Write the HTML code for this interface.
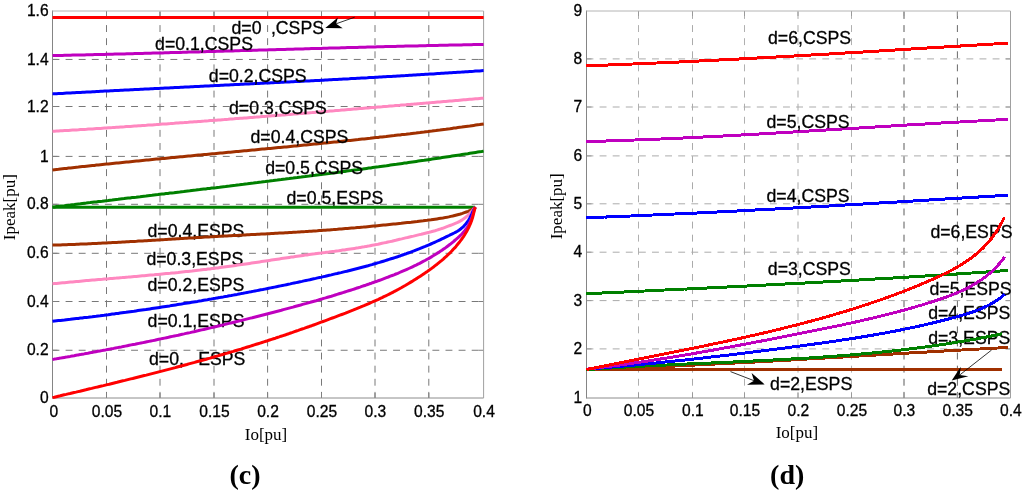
<!DOCTYPE html>
<html><head><meta charset="utf-8"><title>Ipeak vs Io</title>
<style>html,body{margin:0;padding:0;background:#fff;width:1024px;height:499px;overflow:hidden}svg{display:block}</style>
</head><body>
<svg width="1024" height="499" viewBox="0 0 1024 499" style="will-change:transform">
<rect width="1024" height="499" fill="#fff"/>
<line x1="106.5" y1="11.0" x2="106.5" y2="398.0" stroke="#787878" stroke-width="1" stroke-dasharray="6.9 6.2" stroke-dashoffset="-1"/>
<line x1="160.0" y1="11.0" x2="160.0" y2="398.0" stroke="#787878" stroke-width="1" stroke-dasharray="6.9 6.2" stroke-dashoffset="-1"/>
<line x1="214.0" y1="11.0" x2="214.0" y2="398.0" stroke="#787878" stroke-width="1" stroke-dasharray="6.9 6.2" stroke-dashoffset="-1"/>
<line x1="267.6" y1="11.0" x2="267.6" y2="398.0" stroke="#787878" stroke-width="1" stroke-dasharray="6.9 6.2" stroke-dashoffset="-1"/>
<line x1="321.5" y1="11.0" x2="321.5" y2="398.0" stroke="#787878" stroke-width="1" stroke-dasharray="6.9 6.2" stroke-dashoffset="-1"/>
<line x1="375.0" y1="11.0" x2="375.0" y2="398.0" stroke="#787878" stroke-width="1" stroke-dasharray="6.9 6.2" stroke-dashoffset="-1"/>
<line x1="428.8" y1="11.0" x2="428.8" y2="398.0" stroke="#787878" stroke-width="1" stroke-dasharray="6.9 6.2" stroke-dashoffset="-1"/>
<line x1="52.5" y1="59.45" x2="483.6" y2="59.45" stroke="#787878" stroke-width="1" stroke-dasharray="6.9 6.2"/>
<line x1="52.5" y1="106.5" x2="483.6" y2="106.5" stroke="#787878" stroke-width="1" stroke-dasharray="6.9 6.2"/>
<line x1="52.5" y1="156.4" x2="483.6" y2="156.4" stroke="#787878" stroke-width="1" stroke-dasharray="6.9 6.2"/>
<line x1="52.5" y1="204.3" x2="483.6" y2="204.3" stroke="#787878" stroke-width="1" stroke-dasharray="6.9 6.2"/>
<line x1="52.5" y1="253.3" x2="483.6" y2="253.3" stroke="#787878" stroke-width="1" stroke-dasharray="6.9 6.2"/>
<line x1="52.5" y1="301.5" x2="483.6" y2="301.5" stroke="#787878" stroke-width="1" stroke-dasharray="6.9 6.2"/>
<line x1="52.5" y1="350.25" x2="483.6" y2="350.25" stroke="#787878" stroke-width="1" stroke-dasharray="6.9 6.2"/>
<line x1="106.5" y1="398.0" x2="106.5" y2="393.0" stroke="#808080" stroke-width="1"/>
<line x1="106.5" y1="11.0" x2="106.5" y2="16.0" stroke="#808080" stroke-width="1"/>
<line x1="160.0" y1="398.0" x2="160.0" y2="393.0" stroke="#808080" stroke-width="1"/>
<line x1="160.0" y1="11.0" x2="160.0" y2="16.0" stroke="#808080" stroke-width="1"/>
<line x1="214.0" y1="398.0" x2="214.0" y2="393.0" stroke="#808080" stroke-width="1"/>
<line x1="214.0" y1="11.0" x2="214.0" y2="16.0" stroke="#808080" stroke-width="1"/>
<line x1="267.6" y1="398.0" x2="267.6" y2="393.0" stroke="#808080" stroke-width="1"/>
<line x1="267.6" y1="11.0" x2="267.6" y2="16.0" stroke="#808080" stroke-width="1"/>
<line x1="321.5" y1="398.0" x2="321.5" y2="393.0" stroke="#808080" stroke-width="1"/>
<line x1="321.5" y1="11.0" x2="321.5" y2="16.0" stroke="#808080" stroke-width="1"/>
<line x1="375.0" y1="398.0" x2="375.0" y2="393.0" stroke="#808080" stroke-width="1"/>
<line x1="375.0" y1="11.0" x2="375.0" y2="16.0" stroke="#808080" stroke-width="1"/>
<line x1="428.8" y1="398.0" x2="428.8" y2="393.0" stroke="#808080" stroke-width="1"/>
<line x1="428.8" y1="11.0" x2="428.8" y2="16.0" stroke="#808080" stroke-width="1"/>
<line x1="52.5" y1="59.45" x2="57.5" y2="59.45" stroke="#808080" stroke-width="1"/>
<line x1="483.6" y1="59.45" x2="478.6" y2="59.45" stroke="#808080" stroke-width="1"/>
<line x1="52.5" y1="106.5" x2="57.5" y2="106.5" stroke="#808080" stroke-width="1"/>
<line x1="483.6" y1="106.5" x2="478.6" y2="106.5" stroke="#808080" stroke-width="1"/>
<line x1="52.5" y1="156.4" x2="57.5" y2="156.4" stroke="#808080" stroke-width="1"/>
<line x1="483.6" y1="156.4" x2="478.6" y2="156.4" stroke="#808080" stroke-width="1"/>
<line x1="52.5" y1="204.3" x2="57.5" y2="204.3" stroke="#808080" stroke-width="1"/>
<line x1="483.6" y1="204.3" x2="478.6" y2="204.3" stroke="#808080" stroke-width="1"/>
<line x1="52.5" y1="253.3" x2="57.5" y2="253.3" stroke="#808080" stroke-width="1"/>
<line x1="483.6" y1="253.3" x2="478.6" y2="253.3" stroke="#808080" stroke-width="1"/>
<line x1="52.5" y1="301.5" x2="57.5" y2="301.5" stroke="#808080" stroke-width="1"/>
<line x1="483.6" y1="301.5" x2="478.6" y2="301.5" stroke="#808080" stroke-width="1"/>
<line x1="52.5" y1="350.25" x2="57.5" y2="350.25" stroke="#808080" stroke-width="1"/>
<line x1="483.6" y1="350.25" x2="478.6" y2="350.25" stroke="#808080" stroke-width="1"/>
<line x1="52.5" y1="10.5" x2="52.5" y2="398.5" stroke="#858585" stroke-width="1"/>
<line x1="52.5" y1="398.0" x2="483.6" y2="398.0" stroke="#8c8c8c" stroke-width="1"/>
<line x1="483.6" y1="11.0" x2="483.6" y2="398.0" stroke="#a0a0a0" stroke-width="1"/>
<line x1="52.5" y1="11.0" x2="483.6" y2="11.0" stroke="#b4b4b4" stroke-width="1"/>
<line x1="638.5" y1="11.0" x2="638.5" y2="398.0" stroke="#b0b0b0" stroke-width="1" stroke-dasharray="6.9 6.2" stroke-dashoffset="-1"/>
<line x1="692.5" y1="11.0" x2="692.5" y2="398.0" stroke="#ababab" stroke-width="1" stroke-dasharray="6.9 6.2" stroke-dashoffset="-1"/>
<line x1="744.5" y1="11.0" x2="744.5" y2="398.0" stroke="#b0b0b0" stroke-width="1" stroke-dasharray="6.9 6.2" stroke-dashoffset="-1"/>
<line x1="798.0" y1="11.0" x2="798.0" y2="398.0" stroke="#ababab" stroke-width="1" stroke-dasharray="6.9 6.2" stroke-dashoffset="-1"/>
<line x1="851.5" y1="11.0" x2="851.5" y2="398.0" stroke="#b0b0b0" stroke-width="1" stroke-dasharray="6.9 6.2" stroke-dashoffset="-1"/>
<line x1="904.0" y1="11.0" x2="904.0" y2="398.0" stroke="#5a5a5a" stroke-width="1" stroke-dasharray="6.9 6.2" stroke-dashoffset="-1"/>
<line x1="957.4" y1="11.0" x2="957.4" y2="398.0" stroke="#6a6a6a" stroke-width="1" stroke-dasharray="6.9 6.2" stroke-dashoffset="-1"/>
<line x1="586.5" y1="58.9" x2="1010.5" y2="58.9" stroke="#ababab" stroke-width="1" stroke-dasharray="6.9 6.2"/>
<line x1="586.5" y1="107.0" x2="1010.5" y2="107.0" stroke="#ababab" stroke-width="1" stroke-dasharray="6.9 6.2"/>
<line x1="586.5" y1="155.9" x2="1010.5" y2="155.9" stroke="#ababab" stroke-width="1" stroke-dasharray="6.9 6.2"/>
<line x1="586.5" y1="203.8" x2="1010.5" y2="203.8" stroke="#ababab" stroke-width="1" stroke-dasharray="6.9 6.2"/>
<line x1="586.5" y1="252.2" x2="1010.5" y2="252.2" stroke="#ababab" stroke-width="1" stroke-dasharray="6.9 6.2"/>
<line x1="586.5" y1="300.6" x2="1010.5" y2="300.6" stroke="#ababab" stroke-width="1" stroke-dasharray="6.9 6.2"/>
<line x1="586.5" y1="348.9" x2="1010.5" y2="348.9" stroke="#ababab" stroke-width="1" stroke-dasharray="6.9 6.2"/>
<line x1="638.5" y1="398.0" x2="638.5" y2="393.0" stroke="#9a9a9a" stroke-width="1"/>
<line x1="638.5" y1="11.0" x2="638.5" y2="16.0" stroke="#9a9a9a" stroke-width="1"/>
<line x1="692.5" y1="398.0" x2="692.5" y2="393.0" stroke="#9a9a9a" stroke-width="1"/>
<line x1="692.5" y1="11.0" x2="692.5" y2="16.0" stroke="#9a9a9a" stroke-width="1"/>
<line x1="744.5" y1="398.0" x2="744.5" y2="393.0" stroke="#9a9a9a" stroke-width="1"/>
<line x1="744.5" y1="11.0" x2="744.5" y2="16.0" stroke="#9a9a9a" stroke-width="1"/>
<line x1="798.0" y1="398.0" x2="798.0" y2="393.0" stroke="#9a9a9a" stroke-width="1"/>
<line x1="798.0" y1="11.0" x2="798.0" y2="16.0" stroke="#9a9a9a" stroke-width="1"/>
<line x1="851.5" y1="398.0" x2="851.5" y2="393.0" stroke="#9a9a9a" stroke-width="1"/>
<line x1="851.5" y1="11.0" x2="851.5" y2="16.0" stroke="#9a9a9a" stroke-width="1"/>
<line x1="904.0" y1="398.0" x2="904.0" y2="393.0" stroke="#9a9a9a" stroke-width="1"/>
<line x1="904.0" y1="11.0" x2="904.0" y2="16.0" stroke="#9a9a9a" stroke-width="1"/>
<line x1="957.4" y1="398.0" x2="957.4" y2="393.0" stroke="#9a9a9a" stroke-width="1"/>
<line x1="957.4" y1="11.0" x2="957.4" y2="16.0" stroke="#9a9a9a" stroke-width="1"/>
<line x1="586.5" y1="58.9" x2="591.5" y2="58.9" stroke="#9a9a9a" stroke-width="1"/>
<line x1="1010.5" y1="58.9" x2="1005.5" y2="58.9" stroke="#9a9a9a" stroke-width="1"/>
<line x1="586.5" y1="107.0" x2="591.5" y2="107.0" stroke="#9a9a9a" stroke-width="1"/>
<line x1="1010.5" y1="107.0" x2="1005.5" y2="107.0" stroke="#9a9a9a" stroke-width="1"/>
<line x1="586.5" y1="155.9" x2="591.5" y2="155.9" stroke="#9a9a9a" stroke-width="1"/>
<line x1="1010.5" y1="155.9" x2="1005.5" y2="155.9" stroke="#9a9a9a" stroke-width="1"/>
<line x1="586.5" y1="203.8" x2="591.5" y2="203.8" stroke="#9a9a9a" stroke-width="1"/>
<line x1="1010.5" y1="203.8" x2="1005.5" y2="203.8" stroke="#9a9a9a" stroke-width="1"/>
<line x1="586.5" y1="252.2" x2="591.5" y2="252.2" stroke="#9a9a9a" stroke-width="1"/>
<line x1="1010.5" y1="252.2" x2="1005.5" y2="252.2" stroke="#9a9a9a" stroke-width="1"/>
<line x1="586.5" y1="300.6" x2="591.5" y2="300.6" stroke="#9a9a9a" stroke-width="1"/>
<line x1="1010.5" y1="300.6" x2="1005.5" y2="300.6" stroke="#9a9a9a" stroke-width="1"/>
<line x1="586.5" y1="348.9" x2="591.5" y2="348.9" stroke="#9a9a9a" stroke-width="1"/>
<line x1="1010.5" y1="348.9" x2="1005.5" y2="348.9" stroke="#9a9a9a" stroke-width="1"/>
<line x1="586.5" y1="10.5" x2="586.5" y2="398.5" stroke="#858585" stroke-width="1"/>
<line x1="586.5" y1="398.0" x2="1010.5" y2="398.0" stroke="#8c8c8c" stroke-width="1"/>
<line x1="1010.5" y1="11.0" x2="1010.5" y2="398.0" stroke="#a0a0a0" stroke-width="1"/>
<line x1="586.5" y1="11.0" x2="1010.5" y2="11.0" stroke="#b4b4b4" stroke-width="1"/>
<polyline points="52.5,17.4 483.6,17.4" fill="none" stroke="#ff0000" stroke-width="3.0" stroke-linejoin="round" stroke-linecap="butt"/>
<polyline points="52.5,55.6 54.5,55.5 56.5,55.5 58.5,55.4 60.5,55.4 62.5,55.4 64.5,55.3 66.5,55.3 68.5,55.2 70.5,55.2 72.6,55.1 74.6,55.1 76.6,55.0 78.6,55.0 80.6,54.9 82.6,54.9 84.6,54.9 86.6,54.8 88.6,54.8 90.6,54.7 92.6,54.7 94.6,54.6 96.6,54.6 98.6,54.5 100.6,54.5 102.6,54.4 104.6,54.4 106.6,54.3 108.6,54.3 110.7,54.2 112.7,54.2 114.7,54.1 116.7,54.1 118.7,54.0 120.7,54.0 122.7,53.9 124.7,53.9 126.7,53.8 128.7,53.8 130.7,53.7 132.7,53.7 134.7,53.6 136.7,53.6 138.7,53.5 140.7,53.4 142.7,53.4 144.7,53.3 146.7,53.3 148.7,53.2 150.8,53.2 152.8,53.1 154.8,53.1 156.8,53.0 158.8,53.0 160.8,52.9 162.8,52.9 164.8,52.8 166.8,52.7 168.8,52.7 170.8,52.6 172.8,52.6 174.8,52.5 176.8,52.5 178.8,52.4 180.8,52.4 182.8,52.3 184.8,52.2 186.8,52.2 188.9,52.1 190.9,52.1 192.9,52.0 194.9,52.0 196.9,51.9 198.9,51.9 200.9,51.8 202.9,51.7 204.9,51.7 206.9,51.6 208.9,51.6 210.9,51.5 212.9,51.5 214.9,51.4 216.9,51.3 218.9,51.3 220.9,51.2 222.9,51.2 224.9,51.1 226.9,51.1 229.0,51.0 231.0,50.9 233.0,50.9 235.0,50.8 237.0,50.8 239.0,50.7 241.0,50.6 243.0,50.6 245.0,50.5 247.0,50.5 249.0,50.4 251.0,50.4 253.0,50.3 255.0,50.2 257.0,50.2 259.0,50.1 261.0,50.1 263.0,50.0 265.0,50.0 267.0,49.9 269.0,49.8 271.1,49.8 273.1,49.7 275.1,49.7 277.1,49.6 279.1,49.6 281.1,49.5 283.1,49.4 285.1,49.4 287.1,49.3 289.1,49.3 291.1,49.2 293.1,49.2 295.1,49.1 297.1,49.0 299.1,49.0 301.1,48.9 303.1,48.9 305.1,48.8 307.1,48.8 309.1,48.7 311.2,48.6 313.2,48.6 315.2,48.5 317.2,48.5 319.2,48.4 321.2,48.4 323.2,48.3 325.2,48.2 327.2,48.2 329.2,48.1 331.2,48.1 333.2,48.0 335.2,48.0 337.2,47.9 339.2,47.9 341.2,47.8 343.2,47.7 345.2,47.7 347.2,47.6 349.2,47.6 351.3,47.5 353.3,47.5 355.3,47.4 357.3,47.4 359.3,47.3 361.3,47.3 363.3,47.2 365.3,47.2 367.3,47.1 369.3,47.1 371.3,47.0 373.3,46.9 375.3,46.9 377.3,46.8 379.3,46.8 381.3,46.7 383.3,46.7 385.3,46.6 387.3,46.6 389.4,46.5 391.4,46.5 393.4,46.4 395.4,46.4 397.4,46.3 399.4,46.3 401.4,46.2 403.4,46.2 405.4,46.1 407.4,46.1 409.4,46.0 411.4,46.0 413.4,45.9 415.4,45.9 417.4,45.9 419.4,45.8 421.4,45.8 423.4,45.7 425.4,45.7 427.4,45.6 429.5,45.6 431.5,45.5 433.5,45.5 435.5,45.4 437.5,45.4 439.5,45.3 441.5,45.3 443.5,45.3 445.5,45.2 447.5,45.2 449.5,45.1 451.5,45.1 453.5,45.0 455.5,45.0 457.5,45.0 459.5,44.9 461.5,44.9 463.5,44.8 465.5,44.8 467.6,44.8 469.6,44.7 471.6,44.7 473.6,44.6 475.6,44.6 477.6,44.6 479.6,44.5 481.6,44.5 483.6,44.4" fill="none" stroke="#bf00bf" stroke-width="3.0" stroke-linejoin="round"/>
<polyline points="52.5,93.7 54.5,93.8 56.5,93.7 58.5,93.6 60.5,93.5 62.5,93.4 64.5,93.2 66.5,93.1 68.6,93.0 70.6,92.9 72.6,92.8 74.6,92.7 76.6,92.6 78.6,92.5 80.6,92.4 82.6,92.3 84.6,92.2 86.6,92.1 88.6,92.0 90.6,91.9 92.6,91.8 94.6,91.7 96.6,91.6 98.6,91.5 100.6,91.3 102.6,91.2 104.6,91.1 106.7,91.0 108.7,90.9 110.7,90.8 112.7,90.7 114.7,90.6 116.7,90.5 118.7,90.4 120.7,90.3 122.7,90.2 124.7,90.1 126.7,90.0 128.7,89.9 130.7,89.8 132.7,89.7 134.7,89.6 136.7,89.5 138.7,89.4 140.7,89.3 142.8,89.2 144.8,89.1 146.8,89.0 148.8,88.9 150.8,88.8 152.8,88.7 154.8,88.6 156.8,88.5 158.8,88.4 160.8,88.3 162.8,88.2 164.8,88.1 166.8,88.0 168.8,87.9 170.8,87.8 172.8,87.7 174.8,87.6 176.8,87.5 178.9,87.4 180.9,87.3 182.9,87.2 184.9,87.1 186.9,87.0 188.9,86.9 190.9,86.8 192.9,86.7 194.9,86.6 196.9,86.5 198.9,86.4 200.9,86.3 202.9,86.2 204.9,86.1 206.9,86.0 208.9,85.9 210.9,85.8 212.9,85.7 215.0,85.6 217.0,85.5 219.0,85.4 221.0,85.3 223.0,85.2 225.0,85.1 227.0,85.0 229.0,84.9 231.0,84.8 233.0,84.7 235.0,84.6 237.0,84.5 239.0,84.4 241.0,84.3 243.0,84.2 245.0,84.1 247.0,84.0 249.0,83.9 251.1,83.8 253.1,83.7 255.1,83.6 257.1,83.5 259.1,83.4 261.1,83.3 263.1,83.2 265.1,83.1 267.1,83.0 269.1,82.9 271.1,82.8 273.1,82.7 275.1,82.6 277.1,82.5 279.1,82.4 281.1,82.3 283.1,82.2 285.1,82.1 287.1,82.0 289.2,81.9 291.2,81.8 293.2,81.7 295.2,81.6 297.2,81.5 299.2,81.4 301.2,81.3 303.2,81.2 305.2,81.1 307.2,81.0 309.2,80.9 311.2,80.8 313.2,80.7 315.2,80.6 317.2,80.5 319.2,80.4 321.2,80.3 323.2,80.2 325.2,80.0 327.3,79.9 329.3,79.8 331.3,79.7 333.3,79.6 335.3,79.5 337.3,79.4 339.3,79.3 341.3,79.2 343.3,79.1 345.3,79.0 347.3,78.9 349.3,78.8 351.3,78.6 353.3,78.5 355.3,78.4 357.3,78.3 359.3,78.2 361.3,78.1 363.3,78.0 365.3,77.9 367.4,77.8 369.4,77.6 371.4,77.5 373.4,77.4 375.4,77.3 377.4,77.2 379.4,77.1 381.4,77.0 383.4,76.8 385.4,76.7 387.4,76.6 389.4,76.5 391.4,76.4 393.4,76.3 395.4,76.2 397.4,76.0 399.4,75.9 401.4,75.8 403.4,75.7 405.4,75.6 407.4,75.4 409.5,75.3 411.5,75.2 413.5,75.1 415.5,75.0 417.5,74.8 419.5,74.7 421.5,74.6 423.5,74.5 425.5,74.3 427.5,74.2 429.5,74.1 431.5,74.0 433.5,73.9 435.5,73.7 437.5,73.6 439.5,73.5 441.5,73.3 443.5,73.2 445.5,73.1 447.5,73.0 449.5,72.8 451.5,72.7 453.5,72.6 455.5,72.5 457.6,72.3 459.6,72.2 461.6,72.1 463.6,71.9 465.6,71.8 467.6,71.7 469.6,71.5 471.6,71.4 473.6,71.3 475.6,71.1 477.6,71.0 479.6,70.9 481.6,70.7 483.6,70.6" fill="none" stroke="#0000ff" stroke-width="3.0" stroke-linejoin="round"/>
<polyline points="52.5,131.2 54.5,131.2 56.5,131.1 58.5,131.0 60.5,130.8 62.5,130.7 64.5,130.6 66.5,130.5 68.5,130.4 70.5,130.2 72.5,130.1 74.5,130.0 76.5,129.9 78.5,129.8 80.5,129.6 82.5,129.5 84.5,129.4 86.5,129.3 88.5,129.1 90.5,129.0 92.5,128.9 94.5,128.7 96.5,128.6 98.5,128.5 100.5,128.4 102.5,128.2 104.5,128.1 106.4,128.0 108.4,127.8 110.4,127.7 112.4,127.6 114.4,127.4 116.4,127.3 118.4,127.2 120.4,127.0 122.4,126.9 124.4,126.8 126.4,126.6 128.4,126.5 130.4,126.4 132.4,126.2 134.4,126.1 136.4,126.0 138.4,125.8 140.4,125.7 142.4,125.5 144.4,125.4 146.4,125.3 148.4,125.1 150.4,125.0 152.4,124.9 154.4,124.7 156.4,124.6 158.4,124.4 160.4,124.3 162.4,124.1 164.4,124.0 166.4,123.9 168.4,123.7 170.4,123.6 172.3,123.4 174.3,123.3 176.3,123.1 178.3,123.0 180.3,122.8 182.3,122.7 184.3,122.6 186.3,122.4 188.3,122.3 190.3,122.1 192.3,122.0 194.3,121.8 196.3,121.7 198.3,121.5 200.3,121.4 202.3,121.2 204.3,121.1 206.3,120.9 208.3,120.8 210.3,120.6 212.3,120.5 214.3,120.3 216.3,120.2 218.3,120.0 220.3,119.9 222.3,119.7 224.3,119.6 226.2,119.4 228.2,119.3 230.2,119.1 232.2,118.9 234.2,118.8 236.2,118.6 238.2,118.5 240.2,118.3 242.2,118.2 244.2,118.0 246.2,117.9 248.2,117.7 250.2,117.5 252.2,117.4 254.2,117.2 256.2,117.1 258.2,116.9 260.2,116.8 262.2,116.6 264.2,116.4 266.2,116.3 268.2,116.1 270.2,116.0 272.1,115.8 274.1,115.7 276.1,115.5 278.1,115.3 280.1,115.2 282.1,115.0 284.1,114.9 286.1,114.7 288.1,114.5 290.1,114.4 292.1,114.2 294.1,114.0 296.1,113.9 298.1,113.7 300.1,113.6 302.1,113.4 304.1,113.2 306.1,113.1 308.1,112.9 310.1,112.7 312.1,112.6 314.0,112.4 316.0,112.3 318.0,112.1 320.0,111.9 322.0,111.8 324.0,111.6 326.0,111.4 328.0,111.3 330.0,111.1 332.0,110.9 334.0,110.8 336.0,110.6 338.0,110.4 340.0,110.3 342.0,110.1 344.0,110.0 346.0,109.8 348.0,109.6 350.0,109.5 352.0,109.3 353.9,109.1 355.9,109.0 357.9,108.8 359.9,108.6 361.9,108.5 363.9,108.3 365.9,108.1 367.9,108.0 369.9,107.8 371.9,107.6 373.9,107.4 375.9,107.3 377.9,107.1 379.9,106.9 381.9,106.8 383.9,106.6 385.9,106.4 387.9,106.3 389.9,106.1 391.8,105.9 393.8,105.8 395.8,105.6 397.8,105.4 399.8,105.3 401.8,105.1 403.8,104.9 405.8,104.8 407.8,104.6 409.8,104.4 411.8,104.2 413.8,104.1 415.8,103.9 417.8,103.7 419.8,103.6 421.8,103.4 423.8,103.2 425.8,103.1 427.8,102.9 429.7,102.7 431.7,102.6 433.7,102.4 435.7,102.2 437.7,102.0 439.7,101.9 441.7,101.7 443.7,101.5 445.7,101.4 447.7,101.2 449.7,101.0 451.7,100.9 453.7,100.7 455.7,100.5 457.7,100.4 459.7,100.2 461.7,100.0 463.7,99.8 465.6,99.7 467.6,99.5 469.6,99.3 471.6,99.2 473.6,99.0 475.6,98.8 477.6,98.7 479.6,98.5 481.6,98.3 483.6,98.2" fill="none" stroke="#ff88c0" stroke-width="3.0" stroke-linejoin="round"/>
<polyline points="52.5,169.9 54.5,169.7 56.5,169.5 58.5,169.3 60.5,169.0 62.5,168.8 64.5,168.6 66.5,168.4 68.5,168.1 70.5,167.9 72.5,167.7 74.5,167.5 76.5,167.3 78.4,167.1 80.4,166.8 82.4,166.6 84.4,166.4 86.4,166.2 88.4,166.0 90.4,165.8 92.4,165.6 94.4,165.4 96.4,165.1 98.4,164.9 100.4,164.7 102.4,164.5 104.4,164.3 106.4,164.1 108.4,163.9 110.4,163.7 112.4,163.5 114.4,163.3 116.4,163.1 118.4,162.9 120.4,162.7 122.4,162.5 124.4,162.3 126.4,162.1 128.4,161.9 130.4,161.7 132.4,161.5 134.4,161.3 136.4,161.1 138.4,160.9 140.4,160.7 142.4,160.5 144.4,160.3 146.3,160.1 148.3,159.9 150.3,159.7 152.3,159.5 154.3,159.3 156.3,159.1 158.3,158.9 160.3,158.8 162.3,158.6 164.3,158.4 166.3,158.2 168.3,158.0 170.3,157.8 172.3,157.6 174.3,157.4 176.3,157.2 178.3,157.0 180.3,156.8 182.3,156.7 184.3,156.5 186.3,156.3 188.3,156.1 190.3,155.9 192.3,155.7 194.3,155.5 196.3,155.3 198.3,155.1 200.3,155.0 202.3,154.8 204.3,154.6 206.3,154.4 208.3,154.2 210.3,154.0 212.3,153.8 214.3,153.7 216.3,153.5 218.3,153.3 220.3,153.1 222.3,152.9 224.3,152.7 226.3,152.5 228.3,152.3 230.3,152.2 232.3,152.0 234.3,151.8 236.3,151.6 238.3,151.4 240.3,151.2 242.3,151.0 244.3,150.8 246.3,150.7 248.3,150.5 250.3,150.3 252.3,150.1 254.3,149.9 256.3,149.7 258.3,149.5 260.3,149.3 262.3,149.1 264.3,149.0 266.3,148.8 268.3,148.6 270.3,148.4 272.3,148.2 274.3,148.0 276.3,147.8 278.3,147.6 280.3,147.4 282.3,147.2 284.3,147.0 286.3,146.9 288.3,146.7 290.3,146.5 292.3,146.3 294.3,146.1 296.3,145.9 298.3,145.7 300.3,145.5 302.3,145.3 304.2,145.1 306.2,144.9 308.2,144.7 310.2,144.5 312.2,144.3 314.2,144.1 316.2,143.9 318.2,143.7 320.2,143.5 322.2,143.3 324.2,143.1 326.2,142.9 328.2,142.7 330.2,142.5 332.2,142.3 334.2,142.1 336.2,141.9 338.2,141.7 340.2,141.5 342.2,141.2 344.2,141.0 346.2,140.8 348.2,140.6 350.2,140.4 352.2,140.2 354.2,140.0 356.2,139.8 358.2,139.6 360.2,139.3 362.2,139.1 364.2,138.9 366.2,138.7 368.1,138.5 370.1,138.3 372.1,138.0 374.1,137.8 376.1,137.6 378.1,137.4 380.1,137.1 382.1,136.9 384.1,136.7 386.1,136.5 388.1,136.2 390.1,136.0 392.1,135.8 394.1,135.6 396.1,135.3 398.1,135.1 400.1,134.9 402.1,134.6 404.0,134.4 406.0,134.2 408.0,133.9 410.0,133.7 412.0,133.4 414.0,133.2 416.0,133.0 418.0,132.7 420.0,132.5 422.0,132.2 424.0,132.0 426.0,131.7 428.0,131.5 430.0,131.2 431.9,131.0 433.9,130.7 435.9,130.5 437.9,130.2 439.9,130.0 441.9,129.7 443.9,129.4 445.9,129.2 447.9,128.9 449.9,128.7 451.9,128.4 453.8,128.1 455.8,127.9 457.8,127.6 459.8,127.3 461.8,127.1 463.8,126.8 465.8,126.5 467.8,126.2 469.8,126.0 471.8,125.7 473.7,125.4 475.7,125.1 477.7,124.8 479.7,124.6 481.7,124.3 483.7,124.0" fill="none" stroke="#a03000" stroke-width="3.0" stroke-linejoin="round"/>
<polyline points="52.5,207.0 54.5,206.9 56.5,206.6 58.5,206.4 60.5,206.1 62.5,205.9 64.4,205.7 66.4,205.4 68.4,205.2 70.4,205.0 72.4,204.7 74.4,204.5 76.4,204.2 78.4,204.0 80.4,203.8 82.4,203.5 84.3,203.3 86.3,203.1 88.3,202.8 90.3,202.6 92.3,202.3 94.3,202.1 96.3,201.9 98.3,201.6 100.3,201.4 102.2,201.2 104.2,200.9 106.2,200.7 108.2,200.5 110.2,200.2 112.2,200.0 114.2,199.7 116.2,199.5 118.2,199.3 120.2,199.0 122.1,198.8 124.1,198.6 126.1,198.3 128.1,198.1 130.1,197.9 132.1,197.6 134.1,197.4 136.1,197.2 138.1,196.9 140.1,196.7 142.0,196.4 144.0,196.2 146.0,196.0 148.0,195.7 150.0,195.5 152.0,195.3 154.0,195.0 156.0,194.8 158.0,194.6 159.9,194.3 161.9,194.1 163.9,193.9 165.9,193.6 167.9,193.4 169.9,193.1 171.9,192.9 173.9,192.7 175.9,192.4 177.9,192.2 179.8,192.0 181.8,191.7 183.8,191.5 185.8,191.2 187.8,191.0 189.8,190.8 191.8,190.5 193.8,190.3 195.8,190.1 197.8,189.8 199.7,189.6 201.7,189.3 203.7,189.1 205.7,188.9 207.7,188.6 209.7,188.4 211.7,188.1 213.7,187.9 215.7,187.7 217.6,187.4 219.6,187.2 221.6,186.9 223.6,186.7 225.6,186.5 227.6,186.2 229.6,186.0 231.6,185.7 233.6,185.5 235.5,185.3 237.5,185.0 239.5,184.8 241.5,184.5 243.5,184.3 245.5,184.0 247.5,183.8 249.5,183.5 251.5,183.3 253.4,183.1 255.4,182.8 257.4,182.6 259.4,182.3 261.4,182.1 263.4,181.8 265.4,181.6 267.4,181.3 269.4,181.1 271.3,180.8 273.3,180.6 275.3,180.3 277.3,180.1 279.3,179.8 281.3,179.6 283.3,179.3 285.3,179.1 287.2,178.8 289.2,178.6 291.2,178.3 293.2,178.1 295.2,177.8 297.2,177.6 299.2,177.3 301.2,177.1 303.1,176.8 305.1,176.6 307.1,176.3 309.1,176.1 311.1,175.8 313.1,175.5 315.1,175.3 317.1,175.0 319.0,174.8 321.0,174.5 323.0,174.2 325.0,174.0 327.0,173.7 329.0,173.5 331.0,173.2 332.9,172.9 334.9,172.7 336.9,172.4 338.9,172.2 340.9,171.9 342.9,171.6 344.9,171.4 346.9,171.1 348.8,170.8 350.8,170.6 352.8,170.3 354.8,170.0 356.8,169.8 358.8,169.5 360.7,169.2 362.7,169.0 364.7,168.7 366.7,168.4 368.7,168.1 370.7,167.9 372.7,167.6 374.6,167.3 376.6,167.0 378.6,166.8 380.6,166.5 382.6,166.2 384.6,165.9 386.5,165.7 388.5,165.4 390.5,165.1 392.5,164.8 394.5,164.5 396.5,164.3 398.5,164.0 400.4,163.7 402.4,163.4 404.4,163.1 406.4,162.9 408.4,162.6 410.4,162.3 412.3,162.0 414.3,161.7 416.3,161.4 418.3,161.1 420.3,160.8 422.2,160.5 424.2,160.3 426.2,160.0 428.2,159.7 430.2,159.4 432.2,159.1 434.1,158.8 436.1,158.5 438.1,158.2 440.1,157.9 442.1,157.6 444.0,157.3 446.0,157.0 448.0,156.7 450.0,156.4 452.0,156.1 453.9,155.8 455.9,155.5 457.9,155.2 459.9,154.9 461.9,154.6 463.8,154.3 465.8,154.0 467.8,153.7 469.8,153.3 471.8,153.0 473.7,152.7 475.7,152.4 477.7,152.1 479.7,151.8 481.7,151.5 483.6,151.1" fill="none" stroke="#008000" stroke-width="3.0" stroke-linejoin="round"/>
<polyline points="586.4,65.7 588.4,65.7 590.4,65.6 592.4,65.6 594.4,65.5 596.4,65.4 598.5,65.4 600.5,65.3 602.5,65.2 604.5,65.1 606.5,65.1 608.5,65.0 610.5,64.9 612.5,64.8 614.5,64.7 616.5,64.7 618.5,64.6 620.5,64.5 622.5,64.4 624.6,64.3 626.6,64.3 628.6,64.2 630.6,64.1 632.6,64.0 634.6,63.9 636.6,63.9 638.6,63.8 640.6,63.7 642.6,63.6 644.6,63.5 646.6,63.4 648.6,63.3 650.7,63.3 652.7,63.2 654.7,63.1 656.7,63.0 658.7,62.9 660.7,62.8 662.7,62.7 664.7,62.6 666.7,62.5 668.7,62.5 670.7,62.4 672.7,62.3 674.7,62.2 676.7,62.1 678.8,62.0 680.8,61.9 682.8,61.8 684.8,61.7 686.8,61.6 688.8,61.5 690.8,61.4 692.8,61.3 694.8,61.2 696.8,61.1 698.8,61.0 700.8,60.9 702.8,60.8 704.8,60.7 706.8,60.6 708.9,60.5 710.9,60.4 712.9,60.3 714.9,60.2 716.9,60.1 718.9,60.0 720.9,59.9 722.9,59.8 724.9,59.7 726.9,59.6 728.9,59.5 730.9,59.4 732.9,59.3 734.9,59.2 736.9,59.1 738.9,59.0 741.0,58.9 743.0,58.8 745.0,58.7 747.0,58.6 749.0,58.5 751.0,58.4 753.0,58.3 755.0,58.1 757.0,58.0 759.0,57.9 761.0,57.8 763.0,57.7 765.0,57.6 767.0,57.5 769.0,57.4 771.0,57.3 773.1,57.2 775.1,57.1 777.1,56.9 779.1,56.8 781.1,56.7 783.1,56.6 785.1,56.5 787.1,56.4 789.1,56.3 791.1,56.2 793.1,56.1 795.1,55.9 797.1,55.8 799.1,55.7 801.1,55.6 803.1,55.5 805.1,55.4 807.2,55.3 809.2,55.1 811.2,55.0 813.2,54.9 815.2,54.8 817.2,54.7 819.2,54.6 821.2,54.4 823.2,54.3 825.2,54.2 827.2,54.1 829.2,54.0 831.2,53.9 833.2,53.7 835.2,53.6 837.2,53.5 839.2,53.4 841.3,53.3 843.3,53.2 845.3,53.0 847.3,52.9 849.3,52.8 851.3,52.7 853.3,52.6 855.3,52.4 857.3,52.3 859.3,52.2 861.3,52.1 863.3,52.0 865.3,51.8 867.3,51.7 869.3,51.6 871.3,51.5 873.3,51.4 875.3,51.2 877.4,51.1 879.4,51.0 881.4,50.9 883.4,50.7 885.4,50.6 887.4,50.5 889.4,50.4 891.4,50.3 893.4,50.1 895.4,50.0 897.4,49.9 899.4,49.8 901.4,49.6 903.4,49.5 905.4,49.4 907.4,49.3 909.4,49.2 911.4,49.0 913.4,48.9 915.5,48.8 917.5,48.7 919.5,48.5 921.5,48.4 923.5,48.3 925.5,48.2 927.5,48.0 929.5,47.9 931.5,47.8 933.5,47.7 935.5,47.6 937.5,47.4 939.5,47.3 941.5,47.2 943.5,47.1 945.5,46.9 947.5,46.8 949.5,46.7 951.6,46.6 953.6,46.4 955.6,46.3 957.6,46.2 959.6,46.1 961.6,45.9 963.6,45.8 965.6,45.7 967.6,45.6 969.6,45.4 971.6,45.3 973.6,45.2 975.6,45.1 977.6,45.0 979.6,44.8 981.6,44.7 983.6,44.6 985.6,44.5 987.7,44.3 989.7,44.2 991.7,44.1 993.7,44.0 995.7,43.8 997.7,43.7 999.7,43.6 1001.7,43.5 1003.7,43.3 1005.7,43.2 1007.7,43.1" fill="none" stroke="#ff0000" stroke-width="3.0" stroke-linejoin="round" shape-rendering="crispEdges"/>
<polyline points="586.4,141.4 588.4,141.5 590.4,141.5 592.4,141.4 594.4,141.4 596.4,141.3 598.5,141.2 600.5,141.2 602.5,141.1 604.5,141.1 606.5,141.0 608.5,140.9 610.5,140.9 612.5,140.8 614.5,140.7 616.5,140.7 618.5,140.6 620.5,140.5 622.6,140.5 624.6,140.4 626.6,140.3 628.6,140.2 630.6,140.2 632.6,140.1 634.6,140.0 636.6,139.9 638.6,139.9 640.6,139.8 642.6,139.7 644.6,139.6 646.6,139.6 648.6,139.5 650.7,139.4 652.7,139.3 654.7,139.2 656.7,139.1 658.7,139.1 660.7,139.0 662.7,138.9 664.7,138.8 666.7,138.7 668.7,138.6 670.7,138.5 672.7,138.4 674.7,138.3 676.7,138.3 678.8,138.2 680.8,138.1 682.8,138.0 684.8,137.9 686.8,137.8 688.8,137.7 690.8,137.6 692.8,137.5 694.8,137.4 696.8,137.3 698.8,137.2 700.8,137.1 702.8,137.0 704.8,136.9 706.8,136.8 708.8,136.7 710.9,136.6 712.9,136.5 714.9,136.4 716.9,136.3 718.9,136.2 720.9,136.1 722.9,136.0 724.9,135.9 726.9,135.8 728.9,135.6 730.9,135.5 732.9,135.4 734.9,135.3 736.9,135.2 738.9,135.1 740.9,135.0 743.0,134.9 745.0,134.8 747.0,134.7 749.0,134.5 751.0,134.4 753.0,134.3 755.0,134.2 757.0,134.1 759.0,134.0 761.0,133.9 763.0,133.7 765.0,133.6 767.0,133.5 769.0,133.4 771.0,133.3 773.0,133.2 775.0,133.1 777.1,132.9 779.1,132.8 781.1,132.7 783.1,132.6 785.1,132.5 787.1,132.3 789.1,132.2 791.1,132.1 793.1,132.0 795.1,131.9 797.1,131.8 799.1,131.6 801.1,131.5 803.1,131.4 805.1,131.3 807.1,131.1 809.1,131.0 811.1,130.9 813.2,130.8 815.2,130.7 817.2,130.5 819.2,130.4 821.2,130.3 823.2,130.2 825.2,130.1 827.2,129.9 829.2,129.8 831.2,129.7 833.2,129.6 835.2,129.4 837.2,129.3 839.2,129.2 841.2,129.1 843.2,128.9 845.2,128.8 847.2,128.7 849.2,128.6 851.3,128.5 853.3,128.3 855.3,128.2 857.3,128.1 859.3,128.0 861.3,127.8 863.3,127.7 865.3,127.6 867.3,127.5 869.3,127.3 871.3,127.2 873.3,127.1 875.3,127.0 877.3,126.9 879.3,126.7 881.3,126.6 883.3,126.5 885.3,126.4 887.4,126.2 889.4,126.1 891.4,126.0 893.4,125.9 895.4,125.8 897.4,125.6 899.4,125.5 901.4,125.4 903.4,125.3 905.4,125.2 907.4,125.0 909.4,124.9 911.4,124.8 913.4,124.7 915.4,124.5 917.4,124.4 919.4,124.3 921.4,124.2 923.5,124.1 925.5,124.0 927.5,123.8 929.5,123.7 931.5,123.6 933.5,123.5 935.5,123.4 937.5,123.2 939.5,123.1 941.5,123.0 943.5,122.9 945.5,122.8 947.5,122.7 949.5,122.6 951.5,122.4 953.5,122.3 955.5,122.2 957.5,122.1 959.6,122.0 961.6,121.9 963.6,121.8 965.6,121.6 967.6,121.5 969.6,121.4 971.6,121.3 973.6,121.2 975.6,121.1 977.6,121.0 979.6,120.9 981.6,120.8 983.6,120.7 985.6,120.6 987.6,120.5 989.6,120.3 991.6,120.2 993.7,120.1 995.7,120.0 997.7,119.9 999.7,119.8 1001.7,119.7 1003.7,119.6 1005.7,119.5 1007.7,119.4" fill="none" stroke="#bf00bf" stroke-width="3.0" stroke-linejoin="round" shape-rendering="crispEdges"/>
<polyline points="586.4,217.6 588.4,217.7 590.4,217.6 592.4,217.5 594.4,217.4 596.4,217.4 598.5,217.3 600.5,217.2 602.5,217.1 604.5,217.0 606.5,217.0 608.5,216.9 610.5,216.8 612.5,216.7 614.5,216.6 616.5,216.6 618.5,216.5 620.5,216.4 622.5,216.3 624.5,216.2 626.6,216.1 628.6,216.1 630.6,216.0 632.6,215.9 634.6,215.8 636.6,215.7 638.6,215.6 640.6,215.5 642.6,215.5 644.6,215.4 646.6,215.3 648.6,215.2 650.6,215.1 652.6,215.0 654.7,214.9 656.7,214.8 658.7,214.7 660.7,214.6 662.7,214.6 664.7,214.5 666.7,214.4 668.7,214.3 670.7,214.2 672.7,214.1 674.7,214.0 676.7,213.9 678.7,213.8 680.7,213.7 682.8,213.6 684.8,213.5 686.8,213.4 688.8,213.3 690.8,213.3 692.8,213.2 694.8,213.1 696.8,213.0 698.8,212.9 700.8,212.8 702.8,212.7 704.8,212.6 706.8,212.5 708.8,212.4 710.8,212.3 712.9,212.2 714.9,212.1 716.9,212.0 718.9,211.9 720.9,211.8 722.9,211.7 724.9,211.6 726.9,211.5 728.9,211.4 730.9,211.3 732.9,211.2 734.9,211.1 736.9,211.0 738.9,210.9 740.9,210.8 743.0,210.7 745.0,210.5 747.0,210.4 749.0,210.3 751.0,210.2 753.0,210.1 755.0,210.0 757.0,209.9 759.0,209.8 761.0,209.7 763.0,209.6 765.0,209.5 767.0,209.4 769.0,209.3 771.0,209.2 773.0,209.1 775.1,209.0 777.1,208.8 779.1,208.7 781.1,208.6 783.1,208.5 785.1,208.4 787.1,208.3 789.1,208.2 791.1,208.1 793.1,208.0 795.1,207.9 797.1,207.8 799.1,207.6 801.1,207.5 803.1,207.4 805.1,207.3 807.2,207.2 809.2,207.1 811.2,207.0 813.2,206.9 815.2,206.7 817.2,206.6 819.2,206.5 821.2,206.4 823.2,206.3 825.2,206.2 827.2,206.1 829.2,206.0 831.2,205.8 833.2,205.7 835.2,205.6 837.2,205.5 839.2,205.4 841.3,205.3 843.3,205.1 845.3,205.0 847.3,204.9 849.3,204.8 851.3,204.7 853.3,204.6 855.3,204.5 857.3,204.3 859.3,204.2 861.3,204.1 863.3,204.0 865.3,203.9 867.3,203.7 869.3,203.6 871.3,203.5 873.3,203.4 875.3,203.3 877.4,203.2 879.4,203.0 881.4,202.9 883.4,202.8 885.4,202.7 887.4,202.6 889.4,202.4 891.4,202.3 893.4,202.2 895.4,202.1 897.4,202.0 899.4,201.8 901.4,201.7 903.4,201.6 905.4,201.5 907.4,201.4 909.4,201.2 911.4,201.1 913.5,201.0 915.5,200.9 917.5,200.8 919.5,200.6 921.5,200.5 923.5,200.4 925.5,200.3 927.5,200.1 929.5,200.0 931.5,199.9 933.5,199.8 935.5,199.7 937.5,199.5 939.5,199.4 941.5,199.3 943.5,199.2 945.5,199.0 947.5,198.9 949.5,198.8 951.6,198.7 953.6,198.5 955.6,198.4 957.6,198.3 959.6,198.2 961.6,198.0 963.6,197.9 965.6,197.8 967.6,197.7 969.6,197.6 971.6,197.4 973.6,197.3 975.6,197.2 977.6,197.1 979.6,196.9 981.6,196.8 983.6,196.7 985.6,196.6 987.6,196.4 989.7,196.3 991.7,196.2 993.7,196.1 995.7,195.9 997.7,195.8 999.7,195.7 1001.7,195.6 1003.7,195.4 1005.7,195.3 1007.7,195.2" fill="none" stroke="#0000ff" stroke-width="3.0" stroke-linejoin="round" shape-rendering="crispEdges"/>
<polyline points="586.4,293.7 588.4,293.7 590.4,293.6 592.4,293.5 594.4,293.4 596.4,293.3 598.4,293.2 600.5,293.1 602.5,293.0 604.5,292.9 606.5,292.8 608.5,292.7 610.5,292.6 612.5,292.5 614.5,292.4 616.5,292.3 618.5,292.2 620.5,292.1 622.5,292.1 624.5,292.0 626.5,291.9 628.6,291.8 630.6,291.7 632.6,291.6 634.6,291.5 636.6,291.4 638.6,291.3 640.6,291.2 642.6,291.1 644.6,291.0 646.6,290.9 648.6,290.8 650.6,290.7 652.6,290.6 654.6,290.5 656.6,290.4 658.7,290.3 660.7,290.2 662.7,290.1 664.7,290.0 666.7,289.9 668.7,289.8 670.7,289.7 672.7,289.6 674.7,289.5 676.7,289.4 678.7,289.3 680.7,289.2 682.7,289.1 684.7,289.0 686.8,289.0 688.8,288.9 690.8,288.8 692.8,288.7 694.8,288.6 696.8,288.5 698.8,288.4 700.8,288.3 702.8,288.2 704.8,288.1 706.8,288.0 708.8,287.9 710.8,287.8 712.8,287.7 714.8,287.6 716.9,287.5 718.9,287.4 720.9,287.3 722.9,287.2 724.9,287.1 726.9,287.0 728.9,286.9 730.9,286.8 732.9,286.7 734.9,286.6 736.9,286.5 738.9,286.4 740.9,286.3 742.9,286.2 745.0,286.1 747.0,286.0 749.0,285.9 751.0,285.8 753.0,285.7 755.0,285.6 757.0,285.5 759.0,285.4 761.0,285.3 763.0,285.2 765.0,285.1 767.0,284.9 769.0,284.8 771.0,284.7 773.0,284.6 775.1,284.5 777.1,284.4 779.1,284.3 781.1,284.2 783.1,284.1 785.1,284.0 787.1,283.9 789.1,283.8 791.1,283.7 793.1,283.6 795.1,283.5 797.1,283.4 799.1,283.3 801.1,283.2 803.1,283.1 805.1,283.0 807.2,282.8 809.2,282.7 811.2,282.6 813.2,282.5 815.2,282.4 817.2,282.3 819.2,282.2 821.2,282.1 823.2,282.0 825.2,281.9 827.2,281.8 829.2,281.6 831.2,281.5 833.2,281.4 835.2,281.3 837.2,281.2 839.3,281.1 841.3,281.0 843.3,280.9 845.3,280.8 847.3,280.6 849.3,280.5 851.3,280.4 853.3,280.3 855.3,280.2 857.3,280.1 859.3,280.0 861.3,279.8 863.3,279.7 865.3,279.6 867.3,279.5 869.3,279.4 871.4,279.3 873.4,279.2 875.4,279.0 877.4,278.9 879.4,278.8 881.4,278.7 883.4,278.6 885.4,278.4 887.4,278.3 889.4,278.2 891.4,278.1 893.4,278.0 895.4,277.9 897.4,277.7 899.4,277.6 901.4,277.5 903.4,277.4 905.4,277.2 907.5,277.1 909.5,277.0 911.5,276.9 913.5,276.8 915.5,276.6 917.5,276.5 919.5,276.4 921.5,276.3 923.5,276.1 925.5,276.0 927.5,275.9 929.5,275.8 931.5,275.6 933.5,275.5 935.5,275.4 937.5,275.2 939.5,275.1 941.5,275.0 943.5,274.9 945.6,274.7 947.6,274.6 949.6,274.5 951.6,274.3 953.6,274.2 955.6,274.1 957.6,273.9 959.6,273.8 961.6,273.7 963.6,273.5 965.6,273.4 967.6,273.3 969.6,273.1 971.6,273.0 973.6,272.9 975.6,272.7 977.6,272.6 979.6,272.4 981.6,272.3 983.6,272.2 985.6,272.0 987.7,271.9 989.7,271.8 991.7,271.6 993.7,271.5 995.7,271.3 997.7,271.2 999.7,271.0 1001.7,270.9 1003.7,270.8 1005.7,270.6 1007.7,270.5" fill="none" stroke="#008000" stroke-width="3.0" stroke-linejoin="round" shape-rendering="crispEdges"/>
<polyline points="586.5,369.2 588.5,369.3 590.5,369.2 592.5,369.2 594.5,369.1 596.5,369.0 598.6,369.0 600.6,368.9 602.6,368.8 604.6,368.8 606.6,368.7 608.6,368.6 610.6,368.6 612.6,368.5 614.6,368.4 616.6,368.3 618.6,368.3 620.6,368.2 622.6,368.1 624.6,368.0 626.7,368.0 628.7,367.9 630.7,367.8 632.7,367.7 634.7,367.7 636.7,367.6 638.7,367.5 640.7,367.4 642.7,367.3 644.7,367.3 646.7,367.2 648.7,367.1 650.7,367.0 652.7,366.9 654.7,366.8 656.8,366.7 658.8,366.7 660.8,366.6 662.8,366.5 664.8,366.4 666.8,366.3 668.8,366.2 670.8,366.1 672.8,366.0 674.8,366.0 676.8,365.9 678.8,365.8 680.8,365.7 682.8,365.6 684.8,365.5 686.9,365.4 688.9,365.3 690.9,365.2 692.9,365.1 694.9,365.0 696.9,364.9 698.9,364.8 700.9,364.7 702.9,364.6 704.9,364.5 706.9,364.4 708.9,364.3 710.9,364.2 712.9,364.1 714.9,364.0 716.9,363.9 718.9,363.8 721.0,363.7 723.0,363.6 725.0,363.5 727.0,363.4 729.0,363.3 731.0,363.2 733.0,363.1 735.0,363.0 737.0,362.9 739.0,362.8 741.0,362.7 743.0,362.6 745.0,362.5 747.0,362.4 749.0,362.3 751.0,362.2 753.0,362.1 755.1,362.0 757.1,361.8 759.1,361.7 761.1,361.6 763.1,361.5 765.1,361.4 767.1,361.3 769.1,361.2 771.1,361.1 773.1,361.0 775.1,360.9 777.1,360.7 779.1,360.6 781.1,360.5 783.1,360.4 785.1,360.3 787.1,360.2 789.1,360.1 791.2,360.0 793.2,359.8 795.2,359.7 797.2,359.6 799.2,359.5 801.2,359.4 803.2,359.3 805.2,359.2 807.2,359.0 809.2,358.9 811.2,358.8 813.2,358.7 815.2,358.6 817.2,358.5 819.2,358.4 821.2,358.2 823.2,358.1 825.2,358.0 827.2,357.9 829.3,357.8 831.3,357.7 833.3,357.5 835.3,357.4 837.3,357.3 839.3,357.2 841.3,357.1 843.3,357.0 845.3,356.8 847.3,356.7 849.3,356.6 851.3,356.5 853.3,356.4 855.3,356.2 857.3,356.1 859.3,356.0 861.3,355.9 863.3,355.8 865.3,355.7 867.4,355.5 869.4,355.4 871.4,355.3 873.4,355.2 875.4,355.1 877.4,354.9 879.4,354.8 881.4,354.7 883.4,354.6 885.4,354.5 887.4,354.4 889.4,354.2 891.4,354.1 893.4,354.0 895.4,353.9 897.4,353.8 899.4,353.6 901.4,353.5 903.4,353.4 905.4,353.3 907.5,353.2 909.5,353.0 911.5,352.9 913.5,352.8 915.5,352.7 917.5,352.6 919.5,352.5 921.5,352.3 923.5,352.2 925.5,352.1 927.5,352.0 929.5,351.9 931.5,351.8 933.5,351.6 935.5,351.5 937.5,351.4 939.5,351.3 941.5,351.2 943.5,351.1 945.5,350.9 947.5,350.8 949.6,350.7 951.6,350.6 953.6,350.5 955.6,350.4 957.6,350.2 959.6,350.1 961.6,350.0 963.6,349.9 965.6,349.8 967.6,349.7 969.6,349.6 971.6,349.4 973.6,349.3 975.6,349.2 977.6,349.1 979.6,349.0 981.6,348.9 983.6,348.8 985.6,348.7 987.6,348.5 989.7,348.4 991.7,348.3 993.7,348.2 995.7,348.1 997.7,348.0 999.7,347.9 1001.7,347.8 1003.7,347.7 1005.7,347.6 1007.7,347.4" fill="none" stroke="#a03000" stroke-width="3.0" stroke-linejoin="round" shape-rendering="crispEdges"/>
<text x="231.5" y="33.8" font-family='"Liberation Sans", sans-serif' font-size="17.7" stroke="#000" stroke-width="0.3">d=0</text>
<text x="270.9" y="33.8" font-family='"Liberation Sans", sans-serif' font-size="17.7" stroke="#000" stroke-width="0.3">,CSPS</text>
<text x="155.1" y="49.9" font-family='"Liberation Sans", sans-serif' font-size="17.7" stroke="#000" stroke-width="0.3">d=0.1,CSPS</text>
<text x="208.8" y="82" font-family='"Liberation Sans", sans-serif' font-size="17.7" stroke="#000" stroke-width="0.3">d=0.2,CSPS</text>
<text x="229.0" y="114.1" font-family='"Liberation Sans", sans-serif' font-size="17.7" stroke="#000" stroke-width="0.3">d=0.3,CSPS</text>
<text x="250.5" y="142.8" font-family='"Liberation Sans", sans-serif' font-size="17.7" stroke="#000" stroke-width="0.3">d=0.4,CSPS</text>
<text x="265.2" y="173.9" font-family='"Liberation Sans", sans-serif' font-size="17.7" stroke="#000" stroke-width="0.3">d=0.5,CSPS</text>
<text x="286.5" y="204.3" font-family='"Liberation Sans", sans-serif' font-size="17.7" stroke="#000" stroke-width="0.3">d=0.5,ESPS</text>
<text x="147.5" y="236.8" font-family='"Liberation Sans", sans-serif' font-size="17.7" stroke="#000" stroke-width="0.3">d=0.4,ESPS</text>
<text x="146.4" y="264.9" font-family='"Liberation Sans", sans-serif' font-size="17.7" stroke="#000" stroke-width="0.3">d=0.3,ESPS</text>
<text x="147.5" y="291.4" font-family='"Liberation Sans", sans-serif' font-size="17.7" stroke="#000" stroke-width="0.3">d=0.2,ESPS</text>
<text x="147.6" y="326.7" font-family='"Liberation Sans", sans-serif' font-size="17.7" stroke="#000" stroke-width="0.3">d=0.1,ESPS</text>
<text x="149.0" y="365.3" font-family='"Liberation Sans", sans-serif' font-size="17.7" stroke="#000" stroke-width="0.3">d=0,</text>
<text x="198.2" y="365.3" font-family='"Liberation Sans", sans-serif' font-size="17.7" stroke="#000" stroke-width="0.3">ESPS</text>
<text x="768.0" y="43.6" font-family='"Liberation Sans", sans-serif' font-size="17.7" stroke="#000" stroke-width="0.3">d=6,CSPS</text>
<text x="766.5" y="127.6" font-family='"Liberation Sans", sans-serif' font-size="17.7" stroke="#000" stroke-width="0.3">d=5,CSPS</text>
<text x="766.5" y="201.6" font-family='"Liberation Sans", sans-serif' font-size="17.7" stroke="#000" stroke-width="0.3">d=4,CSPS</text>
<text x="767.8" y="275.1" font-family='"Liberation Sans", sans-serif' font-size="17.7" stroke="#000" stroke-width="0.3">d=3,CSPS</text>
<text x="770.1" y="389.5" font-family='"Liberation Sans", sans-serif' font-size="17.7" stroke="#000" stroke-width="0.3">d=2,ESPS</text>
<text x="930.4" y="238.1" font-family='"Liberation Sans", sans-serif' font-size="17.7" stroke="#000" stroke-width="0.3">d=6,ESPS</text>
<text x="929.5" y="295.0" font-family='"Liberation Sans", sans-serif' font-size="17.7" stroke="#000" stroke-width="0.3">d=5,ESPS</text>
<text x="928.2" y="318.8" font-family='"Liberation Sans", sans-serif' font-size="17.7" stroke="#000" stroke-width="0.3">d=4,ESPS</text>
<text x="928.2" y="344.1" font-family='"Liberation Sans", sans-serif' font-size="17.7" stroke="#000" stroke-width="0.3">d=3,ESPS</text>
<text x="927.2" y="394.7" font-family='"Liberation Sans", sans-serif' font-size="17.7" stroke="#000" stroke-width="0.3">d=2,CSPS</text>
<polyline points="52.5,207.3 475,207.3" fill="none" stroke="#008000" stroke-width="3.0" stroke-linejoin="round" stroke-linecap="butt"/>
<polyline points="52.5,245.1 54.6,245.1 56.6,245.0 58.6,244.9 60.6,244.9 62.6,244.8 64.6,244.8 66.6,244.7 68.6,244.6 70.6,244.5 72.6,244.5 74.6,244.4 76.6,244.3 78.6,244.2 80.6,244.1 82.6,244.1 84.6,244.0 86.6,243.9 88.6,243.8 90.6,243.7 92.6,243.6 94.6,243.5 96.6,243.4 98.6,243.3 100.6,243.2 102.6,243.1 104.6,243.0 106.6,242.9 108.6,242.8 110.6,242.7 112.6,242.6 114.6,242.5 116.6,242.4 118.6,242.3 120.6,242.2 122.6,242.1 124.6,242.0 126.6,241.8 128.6,241.7 130.6,241.6 132.6,241.5 134.6,241.4 136.6,241.3 138.6,241.1 140.6,241.0 142.6,240.9 144.7,240.8 146.7,240.7 148.7,240.5 150.7,240.4 152.7,240.3 154.7,240.2 156.7,240.1 158.7,239.9 160.7,239.8 162.7,239.7 164.7,239.6 166.7,239.4 168.8,239.3 170.8,239.2 172.8,239.1 174.8,239.0 176.8,238.8 178.8,238.7 180.8,238.6 182.8,238.5 184.8,238.3 186.8,238.2 188.8,238.1 190.9,238.0 192.9,237.9 194.9,237.7 196.9,237.6 198.9,237.5 200.9,237.4 202.9,237.3 204.9,237.1 206.9,237.0 208.9,236.9 211.0,236.8 213.0,236.7 215.0,236.6 217.0,236.5 219.0,236.3 221.0,236.2 223.0,236.1 225.0,236.0 227.0,235.9 229.1,235.8 231.1,235.7 233.1,235.6 235.1,235.5 237.1,235.4 239.1,235.3 241.1,235.2 243.1,235.1 245.1,235.0 247.1,234.8 249.2,234.7 251.2,234.6 253.2,234.5 255.2,234.4 257.2,234.3 259.2,234.2 261.2,234.1 263.2,234.0 265.2,233.9 267.2,233.8 269.3,233.7 271.3,233.6 273.3,233.5 275.3,233.3 277.3,233.2 279.3,233.1 281.3,233.0 283.3,232.9 285.3,232.8 287.3,232.7 289.3,232.5 291.3,232.4 293.4,232.3 295.4,232.2 297.4,232.1 299.4,231.9 301.4,231.8 303.4,231.7 305.4,231.6 307.4,231.4 309.4,231.3 311.4,231.2 313.4,231.0 315.4,230.9 317.4,230.8 319.4,230.6 321.4,230.5 323.4,230.3 325.4,230.2 327.4,230.0 329.4,229.9 331.4,229.7 333.4,229.6 335.4,229.4 337.4,229.3 339.5,229.1 341.5,229.0 343.5,228.8 345.5,228.6 347.5,228.5 349.5,228.3 351.5,228.1 353.5,227.9 355.4,227.8 357.4,227.6 359.4,227.4 361.4,227.2 363.4,227.1 365.4,226.9 367.4,226.7 369.4,226.5 371.4,226.3 373.4,226.1 375.4,225.9 377.4,225.7 379.4,225.5 381.4,225.3 383.4,225.1 385.4,224.9 387.4,224.7 389.4,224.5 391.4,224.3 393.4,224.1 395.3,223.9 397.3,223.7 399.3,223.5 401.3,223.3 403.3,223.0 405.3,222.8 407.3,222.6 409.3,222.4 411.2,222.2 413.2,221.9 415.2,221.7 417.2,221.5 419.2,221.2 421.2,221.0 423.2,220.8 425.1,220.5 427.1,220.3 429.1,220.0 431.1,219.8 433.1,219.5 435.0,219.2 437.0,218.9 439.0,218.6 441.0,218.3 442.9,218.0 444.9,217.6 446.8,217.3 448.8,216.9 450.8,216.4 452.7,216.0 454.7,215.5 456.6,215.0 458.6,214.5 460.5,214.0 462.4,213.4 464.4,212.7 466.3,212.0 468.2,211.3 470.1,210.4 472.0,209.4 473.9,208.4 475.8,207.2" fill="none" stroke="#a03000" stroke-width="3.0" stroke-linejoin="round"/>
<polyline points="52.5,283.8 54.5,283.6 56.5,283.4 58.5,283.2 60.5,283.0 62.5,282.8 64.5,282.7 66.5,282.5 68.5,282.3 70.4,282.1 72.4,281.9 74.4,281.7 76.4,281.5 78.4,281.4 80.4,281.2 82.4,281.0 84.4,280.8 86.4,280.6 88.4,280.5 90.4,280.3 92.4,280.1 94.4,280.0 96.4,279.8 98.4,279.6 100.4,279.4 102.4,279.3 104.4,279.1 106.4,278.9 108.4,278.8 110.3,278.6 112.3,278.4 114.3,278.2 116.3,278.1 118.3,277.9 120.3,277.7 122.3,277.6 124.3,277.4 126.3,277.2 128.3,277.1 130.3,276.9 132.3,276.7 134.3,276.5 136.3,276.4 138.3,276.2 140.3,276.0 142.2,275.8 144.2,275.7 146.2,275.5 148.2,275.3 150.2,275.1 152.2,274.9 154.2,274.8 156.2,274.6 158.2,274.4 160.2,274.2 162.2,274.0 164.2,273.8 166.1,273.6 168.1,273.4 170.1,273.3 172.1,273.1 174.1,272.9 176.1,272.7 178.1,272.5 180.1,272.2 182.1,272.0 184.1,271.8 186.0,271.6 188.0,271.4 190.0,271.2 192.0,271.0 194.0,270.7 196.0,270.5 198.0,270.3 200.0,270.1 202.0,269.8 203.9,269.6 205.9,269.4 207.9,269.1 209.9,268.9 211.9,268.6 213.9,268.4 215.9,268.1 217.9,267.9 219.8,267.6 221.8,267.3 223.8,267.1 225.8,266.8 227.8,266.5 229.8,266.2 231.8,266.0 233.8,265.7 235.7,265.4 237.7,265.1 239.7,264.8 241.7,264.6 243.7,264.3 245.7,264.0 247.6,263.7 249.6,263.4 251.6,263.1 253.6,262.8 255.6,262.5 257.6,262.2 259.5,261.9 261.5,261.6 263.5,261.3 265.5,261.0 267.5,260.7 269.5,260.4 271.4,260.1 273.4,259.8 275.4,259.5 277.4,259.2 279.4,258.9 281.3,258.6 283.3,258.3 285.3,258.0 287.3,257.7 289.3,257.4 291.3,257.1 293.2,256.9 295.2,256.6 297.2,256.3 299.2,256.0 301.1,255.7 303.1,255.4 305.1,255.1 307.1,254.9 309.1,254.6 311.0,254.3 313.0,254.0 315.0,253.8 317.0,253.5 318.9,253.2 320.9,253.0 322.9,252.7 324.9,252.5 326.8,252.2 328.8,252.0 330.8,251.7 332.8,251.4 334.7,251.2 336.7,250.9 338.7,250.7 340.7,250.4 342.6,250.1 344.6,249.9 346.6,249.6 348.6,249.3 350.5,249.0 352.5,248.7 354.5,248.4 356.4,248.1 358.4,247.8 360.4,247.4 362.4,247.1 364.3,246.8 366.3,246.4 368.3,246.1 370.2,245.7 372.2,245.3 374.2,244.9 376.1,244.6 378.1,244.2 380.1,243.7 382.0,243.3 384.0,242.9 386.0,242.5 387.9,242.0 389.9,241.6 391.9,241.2 393.8,240.7 395.8,240.3 397.8,239.8 399.7,239.3 401.7,238.9 403.7,238.4 405.6,237.9 407.6,237.5 409.6,237.0 411.5,236.5 413.5,236.1 415.5,235.6 417.4,235.1 419.4,234.6 421.3,234.2 423.3,233.7 425.3,233.2 427.2,232.7 429.2,232.3 431.1,231.8 433.0,231.2 435.0,230.7 436.9,230.1 438.8,229.5 440.7,228.9 442.6,228.3 444.5,227.6 446.3,226.9 448.2,226.2 450.0,225.5 451.8,224.8 453.6,224.1 455.3,223.4 457.1,222.7 458.8,221.8 460.5,220.9 462.2,219.9 463.8,218.7 465.4,217.5 467.0,216.2 468.5,214.7 469.9,213.3 471.3,211.7 472.7,210.2 473.9,208.7 475.1,207.2" fill="none" stroke="#ff88c0" stroke-width="3.0" stroke-linejoin="round"/>
<polyline points="52.5,321.3 54.6,321.0 56.5,320.8 58.5,320.6 60.5,320.4 62.5,320.2 64.5,320.0 66.4,319.7 68.4,319.5 70.4,319.3 72.4,319.0 74.4,318.8 76.4,318.6 78.3,318.4 80.3,318.1 82.3,317.9 84.3,317.6 86.3,317.4 88.3,317.2 90.2,316.9 92.2,316.7 94.2,316.4 96.2,316.2 98.2,315.9 100.2,315.7 102.2,315.4 104.1,315.2 106.1,314.9 108.1,314.7 110.1,314.4 112.1,314.1 114.1,313.9 116.1,313.6 118.1,313.4 120.0,313.1 122.0,312.8 124.0,312.5 126.0,312.3 128.0,312.0 130.0,311.7 132.0,311.4 134.0,311.2 135.9,310.9 137.9,310.6 139.9,310.3 141.9,310.0 143.9,309.7 145.9,309.5 147.9,309.2 149.9,308.9 151.8,308.6 153.8,308.3 155.8,308.0 157.8,307.7 159.8,307.4 161.8,307.1 163.8,306.8 165.8,306.5 167.7,306.2 169.7,305.9 171.7,305.5 173.7,305.2 175.7,304.9 177.7,304.6 179.7,304.3 181.6,304.0 183.6,303.6 185.6,303.3 187.6,303.0 189.6,302.7 191.6,302.3 193.6,302.0 195.5,301.7 197.5,301.4 199.5,301.0 201.5,300.7 203.5,300.3 205.5,300.0 207.4,299.7 209.4,299.3 211.4,299.0 213.4,298.6 215.4,298.3 217.3,297.9 219.3,297.6 221.3,297.2 223.3,296.9 225.3,296.5 227.2,296.2 229.2,295.8 231.2,295.5 233.2,295.1 235.1,294.7 237.1,294.4 239.1,294.0 241.1,293.6 243.1,293.3 245.0,292.9 247.0,292.5 249.0,292.1 250.9,291.8 252.9,291.4 254.9,291.0 256.9,290.6 258.8,290.2 260.8,289.8 262.8,289.5 264.7,289.1 266.7,288.7 268.7,288.3 270.6,287.9 272.6,287.5 274.6,287.1 276.5,286.7 278.5,286.3 280.5,285.9 282.4,285.5 284.4,285.1 286.4,284.7 288.3,284.3 290.3,283.9 292.2,283.4 294.2,283.0 296.2,282.6 298.1,282.2 300.1,281.8 302.0,281.4 304.0,280.9 305.9,280.5 307.9,280.1 309.8,279.7 311.8,279.2 313.8,278.8 315.7,278.4 317.7,277.9 319.6,277.5 321.6,277.1 323.5,276.6 325.4,276.2 327.4,275.7 329.3,275.3 331.3,274.9 333.2,274.4 335.2,273.9 337.1,273.5 339.0,273.0 341.0,272.6 342.9,272.1 344.9,271.6 346.8,271.2 348.7,270.7 350.7,270.2 352.6,269.7 354.5,269.2 356.5,268.7 358.4,268.2 360.3,267.7 362.2,267.2 364.2,266.7 366.1,266.2 368.0,265.7 370.0,265.1 371.9,264.6 373.8,264.0 375.7,263.5 377.6,262.9 379.6,262.4 381.5,261.8 383.4,261.2 385.3,260.6 387.2,260.0 389.1,259.4 391.0,258.8 393.0,258.2 394.9,257.6 396.8,257.0 398.7,256.3 400.6,255.7 402.5,255.0 404.4,254.3 406.3,253.7 408.2,253.0 410.1,252.3 412.0,251.6 413.9,250.9 415.8,250.1 417.7,249.4 419.6,248.7 421.5,247.9 423.3,247.1 425.2,246.4 427.1,245.6 429.0,244.8 430.9,244.0 432.7,243.2 434.6,242.3 436.4,241.5 438.3,240.7 440.1,239.8 441.9,238.9 443.7,238.1 445.5,237.2 447.2,236.3 449.0,235.5 450.7,234.6 452.4,233.8 454.1,233.0 455.8,232.1 457.4,231.2 459.0,230.2 460.6,229.0 462.2,227.7 463.7,226.3 465.1,224.8 466.4,223.1 467.7,221.4 468.8,219.7 469.8,217.9 470.7,216.1 471.6,214.3 472.4,212.5 473.3,210.7 474.2,209.0 475.1,207.3" fill="none" stroke="#0000ff" stroke-width="3.0" stroke-linejoin="round"/>
<polyline points="52.5,359.5 54.5,359.1 56.5,358.8 58.4,358.4 60.4,358.1 62.4,357.7 64.3,357.4 66.3,357.1 68.3,356.7 70.2,356.4 72.2,356.0 74.2,355.7 76.1,355.3 78.1,354.9 80.1,354.6 82.0,354.2 84.0,353.9 86.0,353.5 87.9,353.2 89.9,352.8 91.9,352.4 93.8,352.1 95.8,351.7 97.8,351.3 99.8,351.0 101.7,350.6 103.7,350.2 105.6,349.9 107.6,349.5 109.6,349.1 111.5,348.7 113.5,348.4 115.5,348.0 117.4,347.6 119.4,347.2 121.4,346.9 123.3,346.5 125.3,346.1 127.3,345.7 129.2,345.3 131.2,344.9 133.2,344.5 135.1,344.2 137.1,343.8 139.1,343.4 141.0,343.0 143.0,342.6 144.9,342.2 146.9,341.8 148.9,341.4 150.8,341.0 152.8,340.6 154.7,340.2 156.7,339.7 158.7,339.3 160.6,338.9 162.6,338.5 164.5,338.1 166.5,337.7 168.5,337.3 170.4,336.8 172.4,336.4 174.3,336.0 176.3,335.6 178.3,335.2 180.2,334.7 182.2,334.3 184.1,333.9 186.1,333.4 188.0,333.0 190.0,332.6 192.0,332.1 193.9,331.7 195.9,331.2 197.8,330.8 199.8,330.3 201.7,329.9 203.7,329.5 205.6,329.0 207.6,328.5 209.5,328.1 211.5,327.6 213.4,327.2 215.4,326.7 217.3,326.3 219.3,325.8 221.2,325.3 223.2,324.9 225.1,324.4 227.1,323.9 229.0,323.4 231.0,323.0 232.9,322.5 234.9,322.0 236.8,321.5 238.7,321.1 240.7,320.6 242.6,320.1 244.6,319.6 246.5,319.1 248.5,318.6 250.4,318.1 252.3,317.7 254.3,317.2 256.2,316.7 258.2,316.2 260.1,315.7 262.0,315.2 264.0,314.7 265.9,314.2 267.9,313.7 269.8,313.2 271.7,312.7 273.7,312.2 275.6,311.7 277.5,311.2 279.5,310.7 281.4,310.2 283.3,309.6 285.3,309.1 287.2,308.6 289.1,308.1 291.0,307.6 293.0,307.1 294.9,306.5 296.8,306.0 298.8,305.5 300.7,305.0 302.6,304.4 304.5,303.9 306.5,303.4 308.4,302.8 310.3,302.3 312.2,301.7 314.1,301.2 316.1,300.7 318.0,300.1 319.9,299.5 321.8,299.0 323.7,298.4 325.6,297.9 327.6,297.3 329.5,296.7 331.4,296.2 333.3,295.6 335.2,295.0 337.1,294.4 339.0,293.8 340.9,293.2 342.9,292.6 344.8,292.0 346.7,291.4 348.6,290.8 350.5,290.2 352.4,289.6 354.3,289.0 356.2,288.3 358.1,287.7 360.0,287.1 361.9,286.4 363.8,285.8 365.7,285.2 367.6,284.5 369.5,283.8 371.4,283.2 373.3,282.5 375.2,281.8 377.1,281.2 379.0,280.5 380.9,279.8 382.8,279.1 384.6,278.4 386.5,277.7 388.4,277.0 390.3,276.2 392.2,275.5 394.0,274.8 395.9,274.0 397.8,273.3 399.6,272.5 401.5,271.7 403.3,270.9 405.2,270.1 407.0,269.3 408.8,268.5 410.7,267.7 412.5,266.8 414.3,265.9 416.1,265.1 417.9,264.2 419.7,263.3 421.4,262.4 423.2,261.4 425.0,260.5 426.7,259.5 428.5,258.6 430.2,257.6 431.9,256.6 433.6,255.5 435.3,254.5 437.0,253.4 438.7,252.4 440.3,251.3 442.0,250.2 443.6,249.0 445.3,247.9 446.9,246.7 448.5,245.5 450.1,244.3 451.6,243.1 453.2,241.8 454.7,240.5 456.3,239.2 457.8,237.9 459.2,236.6 460.7,235.2 462.1,233.8 463.4,232.3 464.7,230.8 465.9,229.3 467.1,227.6 468.1,226.0 469.0,224.3 469.9,222.5 470.7,220.7 471.4,218.8 472.1,216.9 472.7,215.0 473.3,213.0 473.8,211.1 474.4,209.1 474.9,207.1" fill="none" stroke="#bf00bf" stroke-width="3.0" stroke-linejoin="round"/>
<polyline points="52.5,397.6 54.4,397.2 56.4,396.7 58.3,396.2 60.3,395.8 62.3,395.3 64.2,394.8 66.2,394.4 68.2,393.9 70.1,393.5 72.1,393.0 74.1,392.5 76.0,392.1 78.0,391.6 79.9,391.2 81.9,390.7 83.9,390.2 85.8,389.8 87.8,389.3 89.7,388.8 91.7,388.4 93.6,387.9 95.6,387.4 97.6,387.0 99.5,386.5 101.5,386.0 103.4,385.6 105.4,385.1 107.3,384.6 109.3,384.2 111.2,383.7 113.2,383.2 115.1,382.7 117.1,382.3 119.0,381.8 121.0,381.3 122.9,380.8 124.9,380.4 126.8,379.9 128.8,379.4 130.7,378.9 132.7,378.5 134.6,378.0 136.5,377.5 138.5,377.0 140.4,376.5 142.4,376.0 144.3,375.5 146.3,375.1 148.2,374.6 150.1,374.1 152.1,373.6 154.0,373.1 156.0,372.6 157.9,372.1 159.8,371.6 161.8,371.1 163.7,370.6 165.6,370.1 167.6,369.6 169.5,369.1 171.5,368.6 173.4,368.1 175.3,367.6 177.3,367.0 179.2,366.5 181.1,366.0 183.1,365.5 185.0,365.0 186.9,364.5 188.8,363.9 190.8,363.4 192.7,362.9 194.6,362.4 196.6,361.8 198.5,361.3 200.4,360.8 202.4,360.2 204.3,359.7 206.2,359.2 208.1,358.6 210.1,358.1 212.0,357.5 213.9,357.0 215.8,356.4 217.8,355.9 219.7,355.3 221.6,354.8 223.5,354.2 225.5,353.6 227.4,353.1 229.3,352.5 231.2,351.9 233.2,351.4 235.1,350.8 237.0,350.2 238.9,349.6 240.9,349.1 242.8,348.5 244.7,347.9 246.6,347.3 248.5,346.7 250.5,346.1 252.4,345.5 254.3,344.9 256.2,344.3 258.1,343.7 260.1,343.1 262.0,342.5 263.9,341.9 265.8,341.3 267.7,340.7 269.6,340.0 271.6,339.4 273.5,338.8 275.4,338.2 277.3,337.5 279.2,336.9 281.1,336.2 283.1,335.6 285.0,335.0 286.9,334.3 288.8,333.7 290.7,333.0 292.6,332.4 294.5,331.7 296.4,331.0 298.3,330.4 300.2,329.7 302.1,329.0 304.1,328.4 306.0,327.7 307.9,327.0 309.8,326.3 311.7,325.7 313.6,325.0 315.4,324.3 317.3,323.6 319.2,322.9 321.1,322.2 323.0,321.5 324.9,320.8 326.8,320.1 328.7,319.4 330.5,318.7 332.4,318.0 334.3,317.3 336.2,316.6 338.0,315.9 339.9,315.2 341.8,314.5 343.6,313.8 345.5,313.1 347.4,312.3 349.2,311.6 351.1,310.9 352.9,310.2 354.8,309.4 356.6,308.7 358.5,307.9 360.3,307.2 362.1,306.4 364.0,305.7 365.8,304.9 367.6,304.1 369.5,303.3 371.3,302.5 373.1,301.7 374.9,300.9 376.7,300.1 378.5,299.3 380.3,298.4 382.1,297.6 383.9,296.7 385.7,295.9 387.5,295.0 389.3,294.1 391.1,293.2 392.8,292.3 394.6,291.3 396.4,290.4 398.1,289.5 399.9,288.5 401.7,287.5 403.4,286.5 405.2,285.5 406.9,284.5 408.6,283.5 410.4,282.4 412.1,281.4 413.8,280.3 415.5,279.2 417.3,278.1 419.0,277.0 420.7,275.9 422.4,274.8 424.0,273.7 425.7,272.6 427.4,271.4 429.0,270.2 430.7,269.1 432.3,267.9 433.9,266.7 435.5,265.4 437.1,264.2 438.7,262.9 440.2,261.7 441.8,260.4 443.3,259.1 444.8,257.7 446.3,256.4 447.7,255.0 449.2,253.6 450.6,252.2 452.0,250.8 453.3,249.3 454.7,247.9 456.0,246.4 457.3,244.8 458.5,243.3 459.8,241.7 461.0,240.1 462.2,238.5 463.3,236.9 464.4,235.2 465.4,233.5 466.5,231.8 467.4,230.1 468.3,228.3 469.2,226.5 470.0,224.7 470.8,222.8 471.5,221.0 472.1,219.1 472.7,217.2 473.2,215.2 473.7,213.2 474.2,211.2 474.7,209.2 475.2,207.2" fill="none" stroke="#ff0000" stroke-width="3.0" stroke-linejoin="round"/>
<polyline points="586.5,369.1 1002.4,369.1" fill="none" stroke="#a03000" stroke-width="3.0" stroke-linejoin="round" stroke-linecap="butt" shape-rendering="crispEdges"/>
<polyline points="586.5,369.2 588.6,369.4 590.6,369.3 592.6,369.2 594.6,369.0 596.6,368.9 598.6,368.7 600.6,368.6 602.6,368.5 604.6,368.4 606.6,368.2 608.6,368.1 610.6,368.0 612.6,367.9 614.6,367.7 616.6,367.6 618.6,367.5 620.6,367.4 622.6,367.3 624.6,367.1 626.6,367.0 628.6,366.9 630.6,366.8 632.6,366.7 634.6,366.6 636.6,366.5 638.6,366.4 640.6,366.3 642.6,366.2 644.6,366.0 646.6,365.9 648.6,365.8 650.6,365.7 652.6,365.6 654.6,365.5 656.6,365.4 658.6,365.3 660.6,365.2 662.7,365.1 664.7,365.1 666.7,365.0 668.7,364.9 670.7,364.8 672.7,364.7 674.7,364.6 676.7,364.5 678.7,364.4 680.7,364.3 682.7,364.2 684.7,364.1 686.7,364.0 688.7,363.9 690.8,363.9 692.8,363.8 694.8,363.7 696.8,363.6 698.8,363.5 700.8,363.4 702.8,363.3 704.8,363.2 706.8,363.1 708.8,363.1 710.8,363.0 712.8,362.9 714.9,362.8 716.9,362.7 718.9,362.6 720.9,362.5 722.9,362.4 724.9,362.3 726.9,362.2 728.9,362.2 730.9,362.1 732.9,362.0 734.9,361.9 737.0,361.8 739.0,361.7 741.0,361.6 743.0,361.5 745.0,361.4 747.0,361.3 749.0,361.2 751.0,361.1 753.0,361.0 755.0,360.9 757.0,360.8 759.1,360.7 761.1,360.6 763.1,360.5 765.1,360.4 767.1,360.3 769.1,360.2 771.1,360.1 773.1,360.0 775.1,359.9 777.1,359.8 779.1,359.7 781.1,359.6 783.2,359.5 785.2,359.4 787.2,359.3 789.2,359.2 791.2,359.0 793.2,358.9 795.2,358.8 797.2,358.7 799.2,358.6 801.2,358.5 803.2,358.3 805.2,358.2 807.2,358.1 809.2,358.0 811.2,357.8 813.3,357.7 815.3,357.6 817.3,357.4 819.3,357.3 821.3,357.2 823.3,357.0 825.3,356.9 827.3,356.7 829.3,356.6 831.3,356.5 833.3,356.3 835.3,356.2 837.3,356.0 839.3,355.9 841.3,355.7 843.3,355.5 845.3,355.4 847.3,355.2 849.3,355.1 851.3,354.9 853.3,354.7 855.3,354.6 857.3,354.4 859.3,354.2 861.3,354.0 863.3,353.9 865.3,353.7 867.3,353.5 869.3,353.3 871.3,353.1 873.3,352.9 875.3,352.7 877.3,352.5 879.3,352.3 881.3,352.1 883.3,351.9 885.3,351.7 887.3,351.5 889.3,351.3 891.3,351.1 893.3,350.9 895.3,350.7 897.3,350.4 899.3,350.2 901.3,350.0 903.2,349.7 905.2,349.5 907.2,349.3 909.2,349.0 911.2,348.8 913.2,348.5 915.2,348.3 917.2,348.0 919.2,347.8 921.2,347.5 923.2,347.3 925.1,347.0 927.1,346.7 929.1,346.4 931.1,346.2 933.1,345.9 935.1,345.6 937.1,345.3 939.0,345.0 941.0,344.7 943.0,344.4 945.0,344.1 947.0,343.8 949.0,343.5 950.9,343.2 952.9,342.9 954.9,342.6 956.9,342.3 958.9,341.9 960.9,341.6 962.8,341.3 964.8,340.9 966.8,340.6 968.8,340.2 970.7,339.9 972.7,339.5 974.7,339.2 976.7,338.8 978.6,338.5 980.6,338.1 982.6,337.7 984.6,337.3 986.5,337.0 988.5,336.6 990.5,336.2 992.5,335.8 994.4,335.4 996.4,335.0 998.4,334.6 1000.3,334.2 1002.3,333.7" fill="none" stroke="#008000" stroke-width="3.0" stroke-linejoin="round" shape-rendering="crispEdges"/>
<polyline points="586.5,369.2 588.8,369.0 590.7,368.8 592.7,368.7 594.7,368.5 596.6,368.4 598.6,368.2 600.6,368.0 602.5,367.9 604.5,367.7 606.5,367.5 608.5,367.4 610.4,367.2 612.4,367.0 614.4,366.9 616.4,366.7 618.3,366.5 620.3,366.3 622.3,366.2 624.3,366.0 626.3,365.8 628.2,365.6 630.2,365.4 632.2,365.3 634.2,365.1 636.2,364.9 638.2,364.7 640.1,364.5 642.1,364.3 644.1,364.1 646.1,363.9 648.1,363.7 650.1,363.5 652.1,363.3 654.1,363.2 656.1,363.0 658.0,362.8 660.0,362.6 662.0,362.4 664.0,362.1 666.0,361.9 668.0,361.7 670.0,361.5 672.0,361.3 674.0,361.1 676.0,360.9 678.0,360.7 680.0,360.5 682.0,360.3 684.0,360.1 686.0,359.8 688.0,359.6 690.0,359.4 692.0,359.2 694.0,359.0 696.0,358.7 698.0,358.5 699.9,358.3 701.9,358.1 703.9,357.9 705.9,357.6 707.9,357.4 709.9,357.2 711.9,356.9 713.9,356.7 715.9,356.5 717.9,356.2 720.0,356.0 722.0,355.8 724.0,355.5 726.0,355.3 728.0,355.1 730.0,354.8 732.0,354.6 734.0,354.4 736.0,354.1 738.0,353.9 740.0,353.6 742.0,353.4 744.0,353.1 746.0,352.9 748.0,352.7 750.0,352.4 752.0,352.2 754.0,351.9 756.0,351.7 758.0,351.4 760.0,351.2 762.0,350.9 764.0,350.7 766.0,350.4 768.0,350.2 770.0,349.9 772.0,349.6 774.0,349.4 776.0,349.1 778.0,348.9 780.0,348.6 782.0,348.3 784.0,348.1 786.0,347.8 788.0,347.6 790.0,347.3 792.0,347.0 794.0,346.8 796.0,346.5 797.9,346.2 799.9,346.0 801.9,345.7 803.9,345.4 805.9,345.2 807.9,344.9 809.9,344.6 811.9,344.4 813.9,344.1 815.9,343.8 817.9,343.5 819.9,343.3 821.9,343.0 823.9,342.7 825.8,342.4 827.8,342.1 829.8,341.9 831.8,341.6 833.8,341.3 835.8,341.0 837.8,340.7 839.8,340.4 841.7,340.1 843.7,339.8 845.7,339.5 847.7,339.2 849.7,338.9 851.7,338.6 853.6,338.3 855.6,338.0 857.6,337.7 859.6,337.3 861.5,337.0 863.5,336.7 865.5,336.4 867.5,336.0 869.4,335.7 871.4,335.4 873.4,335.0 875.4,334.7 877.3,334.3 879.3,334.0 881.3,333.6 883.2,333.3 885.2,332.9 887.2,332.6 889.1,332.2 891.1,331.8 893.1,331.5 895.0,331.1 897.0,330.7 899.0,330.3 900.9,329.9 902.9,329.5 904.8,329.1 906.8,328.7 908.7,328.3 910.7,327.9 912.6,327.5 914.6,327.1 916.5,326.6 918.5,326.2 920.4,325.8 922.4,325.3 924.3,324.9 926.3,324.5 928.2,324.0 930.1,323.6 932.1,323.1 934.0,322.6 935.9,322.2 937.9,321.7 939.8,321.2 941.7,320.7 943.6,320.2 945.5,319.8 947.4,319.3 949.3,318.8 951.3,318.3 953.2,317.7 955.0,317.2 956.9,316.7 958.8,316.2 960.7,315.7 962.6,315.1 964.5,314.6 966.4,314.0 968.2,313.4 970.1,312.8 971.9,312.2 973.8,311.5 975.7,310.9 977.5,310.2 979.3,309.4 981.2,308.7 983.0,307.9 984.8,307.0 986.7,306.2 988.5,305.2 990.3,304.3 992.1,303.2 993.9,302.2 995.7,301.0 997.5,299.8 999.3,298.6 1001.0,297.3 1002.8,295.9 1004.6,294.4" fill="none" stroke="#0000ff" stroke-width="3.0" stroke-linejoin="round" shape-rendering="crispEdges"/>
<polyline points="586.5,369.2 588.7,368.9 590.6,368.6 592.6,368.4 594.6,368.2 596.5,367.9 598.5,367.7 600.5,367.5 602.5,367.2 604.4,367.0 606.4,366.7 608.4,366.5 610.4,366.2 612.3,366.0 614.3,365.7 616.3,365.5 618.3,365.2 620.2,364.9 622.2,364.7 624.2,364.4 626.2,364.1 628.2,363.8 630.1,363.6 632.1,363.3 634.1,363.0 636.1,362.7 638.0,362.4 640.0,362.1 642.0,361.8 644.0,361.6 646.0,361.3 648.0,361.0 649.9,360.7 651.9,360.3 653.9,360.0 655.9,359.7 657.9,359.4 659.8,359.1 661.8,358.8 663.8,358.5 665.8,358.2 667.8,357.8 669.8,357.5 671.7,357.2 673.7,356.9 675.7,356.5 677.7,356.2 679.7,355.9 681.7,355.6 683.6,355.2 685.6,354.9 687.6,354.5 689.6,354.2 691.6,353.9 693.6,353.5 695.5,353.2 697.5,352.8 699.5,352.5 701.5,352.1 703.5,351.8 705.5,351.4 707.4,351.1 709.4,350.7 711.4,350.4 713.4,350.0 715.4,349.7 717.4,349.3 719.3,348.9 721.3,348.6 723.3,348.2 725.3,347.8 727.3,347.5 729.3,347.1 731.2,346.7 733.2,346.4 735.2,346.0 737.2,345.6 739.2,345.3 741.1,344.9 743.1,344.5 745.1,344.1 747.1,343.8 749.1,343.4 751.1,343.0 753.0,342.6 755.0,342.2 757.0,341.9 759.0,341.5 761.0,341.1 762.9,340.7 764.9,340.3 766.9,340.0 768.9,339.6 770.8,339.2 772.8,338.8 774.8,338.4 776.8,338.0 778.8,337.6 780.7,337.3 782.7,336.9 784.7,336.5 786.7,336.1 788.6,335.7 790.6,335.3 792.6,334.9 794.6,334.5 796.5,334.1 798.5,333.8 800.5,333.4 802.4,333.0 804.4,332.6 806.4,332.2 808.4,331.8 810.3,331.4 812.3,331.0 814.3,330.6 816.2,330.2 818.2,329.8 820.2,329.4 822.1,329.0 824.1,328.6 826.1,328.2 828.0,327.8 830.0,327.4 832.0,327.0 833.9,326.6 835.9,326.2 837.8,325.8 839.8,325.4 841.8,325.0 843.7,324.5 845.7,324.1 847.6,323.7 849.6,323.3 851.6,322.8 853.5,322.4 855.5,322.0 857.4,321.6 859.4,321.1 861.3,320.7 863.3,320.2 865.2,319.8 867.2,319.3 869.1,318.9 871.1,318.4 873.0,318.0 875.0,317.5 876.9,317.0 878.9,316.6 880.8,316.1 882.8,315.6 884.7,315.1 886.7,314.6 888.6,314.1 890.6,313.7 892.5,313.2 894.4,312.7 896.4,312.1 898.3,311.6 900.2,311.1 902.2,310.6 904.1,310.1 906.1,309.5 908.0,309.0 909.9,308.4 911.9,307.9 913.8,307.3 915.7,306.8 917.6,306.2 919.6,305.6 921.5,305.1 923.4,304.5 925.4,303.9 927.3,303.3 929.2,302.7 931.1,302.1 933.0,301.5 935.0,300.9 936.9,300.2 938.8,299.6 940.7,299.0 942.6,298.3 944.5,297.6 946.4,297.0 948.3,296.3 950.2,295.5 952.0,294.8 953.9,294.1 955.7,293.3 957.6,292.5 959.4,291.8 961.2,290.9 963.0,290.1 964.8,289.3 966.6,288.4 968.4,287.5 970.1,286.6 971.9,285.6 973.6,284.6 975.3,283.6 977.0,282.6 978.6,281.6 980.3,280.5 981.9,279.4 983.5,278.2 985.1,277.0 986.7,275.8 988.2,274.6 989.7,273.3 991.2,272.0 992.7,270.7 994.1,269.3 995.5,267.9 996.9,266.4 998.3,264.9 999.6,263.4 1000.9,261.8 1002.2,260.2 1003.5,258.5 1004.7,256.8" fill="none" stroke="#bf00bf" stroke-width="3.0" stroke-linejoin="round" shape-rendering="crispEdges"/>
<polyline points="586.5,369.2 588.9,369.1 590.9,368.7 592.8,368.3 594.7,367.9 596.6,367.5 598.5,367.1 600.4,366.7 602.4,366.4 604.3,366.0 606.2,365.6 608.1,365.2 610.1,364.8 612.0,364.4 613.9,364.0 615.8,363.6 617.8,363.2 619.7,362.8 621.6,362.4 623.6,362.1 625.5,361.7 627.5,361.3 629.4,360.9 631.3,360.5 633.3,360.1 635.2,359.7 637.2,359.3 639.1,359.0 641.1,358.6 643.0,358.2 645.0,357.8 646.9,357.4 648.9,357.0 650.8,356.6 652.8,356.2 654.8,355.9 656.7,355.5 658.7,355.1 660.6,354.7 662.6,354.3 664.6,353.9 666.5,353.5 668.5,353.1 670.4,352.7 672.4,352.3 674.4,352.0 676.3,351.6 678.3,351.2 680.3,350.8 682.2,350.4 684.2,350.0 686.2,349.6 688.1,349.2 690.1,348.8 692.1,348.4 694.1,348.0 696.0,347.6 698.0,347.2 700.0,346.8 701.9,346.4 703.9,346.0 705.9,345.6 707.9,345.2 709.8,344.7 711.8,344.3 713.8,343.9 715.8,343.5 717.7,343.1 719.7,342.7 721.7,342.3 723.6,341.8 725.6,341.4 727.6,341.0 729.6,340.6 731.5,340.2 733.5,339.7 735.5,339.3 737.5,338.9 739.4,338.4 741.4,338.0 743.4,337.6 745.4,337.1 747.3,336.7 749.3,336.2 751.3,335.8 753.2,335.4 755.2,334.9 757.2,334.5 759.1,334.0 761.1,333.5 763.1,333.1 765.1,332.6 767.0,332.2 769.0,331.7 771.0,331.2 772.9,330.8 774.9,330.3 776.8,329.8 778.8,329.4 780.8,328.9 782.7,328.4 784.7,327.9 786.7,327.4 788.6,326.9 790.6,326.4 792.5,325.9 794.5,325.5 796.4,325.0 798.4,324.4 800.3,323.9 802.3,323.4 804.2,322.9 806.2,322.4 808.1,321.9 810.1,321.4 812.0,320.8 814.0,320.3 815.9,319.8 817.9,319.3 819.8,318.7 821.7,318.2 823.7,317.6 825.6,317.1 827.6,316.5 829.5,316.0 831.4,315.4 833.4,314.9 835.3,314.3 837.2,313.7 839.1,313.2 841.1,312.6 843.0,312.0 844.9,311.4 846.8,310.9 848.7,310.3 850.7,309.7 852.6,309.1 854.5,308.5 856.4,307.9 858.3,307.3 860.2,306.6 862.1,306.0 864.0,305.4 865.9,304.8 867.8,304.2 869.7,303.5 871.6,302.9 873.5,302.2 875.4,301.6 877.3,300.9 879.2,300.3 881.0,299.6 882.9,299.0 884.8,298.3 886.7,297.6 888.6,296.9 890.4,296.3 892.3,295.6 894.2,294.9 896.0,294.2 897.9,293.5 899.7,292.8 901.6,292.1 903.5,291.4 905.3,290.6 907.2,289.9 909.0,289.2 910.9,288.5 912.7,287.7 914.5,287.0 916.4,286.2 918.2,285.5 920.0,284.7 921.9,283.9 923.7,283.2 925.5,282.4 927.3,281.6 929.1,280.8 931.0,280.0 932.8,279.2 934.6,278.4 936.4,277.6 938.2,276.8 940.0,276.0 941.7,275.1 943.5,274.3 945.3,273.4 947.1,272.6 948.8,271.7 950.5,270.8 952.3,269.8 954.0,268.9 955.7,268.0 957.4,267.0 959.1,266.0 960.8,265.0 962.5,264.0 964.1,262.9 965.7,261.8 967.4,260.7 969.0,259.6 970.6,258.5 972.1,257.3 973.7,256.1 975.2,254.9 976.7,253.6 978.2,252.3 979.7,251.0 981.2,249.7 982.6,248.3 984.0,246.9 985.4,245.4 986.8,244.0 988.1,242.4 989.5,240.9 990.8,239.3 992.0,237.7 993.3,236.0 994.5,234.3 995.7,232.6 996.9,230.8 998.0,229.0 999.1,227.2 1000.2,225.3 1001.3,223.4 1002.3,221.4 1003.3,219.5 1004.3,217.4" fill="none" stroke="#ff0000" stroke-width="3.0" stroke-linejoin="round" shape-rendering="crispEdges"/>
<line x1="354.7" y1="17.2" x2="336.1" y2="23.8" stroke="#000" stroke-width="0.8"/>
<polygon points="325.3,28 337.9,17.5 336.1,23.8 342.7,28.3" fill="#000"/>
<line x1="730.5" y1="371.6" x2="754" y2="380.7" stroke="#000" stroke-width="0.8"/>
<polygon points="764.6,384.4 751.6,373 754,380.7 747,384.7" fill="#000"/>
<line x1="991.6" y1="350" x2="959.7" y2="375.0" stroke="#000" stroke-width="0.8"/>
<polygon points="951.7,380.4 960.8,366.8 959.7,375.0 968.4,376.2" fill="#000"/>
<text x="48.6" y="16.1" font-family='"Liberation Sans", sans-serif' font-size="15.6" text-anchor="end" stroke="#000" stroke-width="0.3">1.6</text>
<text x="48.6" y="64.5" font-family='"Liberation Sans", sans-serif' font-size="15.6" text-anchor="end" stroke="#000" stroke-width="0.3">1.4</text>
<text x="48.6" y="111.6" font-family='"Liberation Sans", sans-serif' font-size="15.6" text-anchor="end" stroke="#000" stroke-width="0.3">1.2</text>
<text x="48.6" y="161.5" font-family='"Liberation Sans", sans-serif' font-size="15.6" text-anchor="end" stroke="#000" stroke-width="0.3">1</text>
<text x="48.6" y="209.4" font-family='"Liberation Sans", sans-serif' font-size="15.6" text-anchor="end" stroke="#000" stroke-width="0.3">0.8</text>
<text x="48.6" y="258.4" font-family='"Liberation Sans", sans-serif' font-size="15.6" text-anchor="end" stroke="#000" stroke-width="0.3">0.6</text>
<text x="48.6" y="306.6" font-family='"Liberation Sans", sans-serif' font-size="15.6" text-anchor="end" stroke="#000" stroke-width="0.3">0.4</text>
<text x="48.6" y="355.4" font-family='"Liberation Sans", sans-serif' font-size="15.6" text-anchor="end" stroke="#000" stroke-width="0.3">0.2</text>
<text x="48.6" y="403.1" font-family='"Liberation Sans", sans-serif' font-size="15.6" text-anchor="end" stroke="#000" stroke-width="0.3">0</text>
<text x="53.9" y="416.6" font-family='"Liberation Sans", sans-serif' font-size="15.6" text-anchor="middle" stroke="#000" stroke-width="0.3">0</text>
<text x="106.9" y="416.6" font-family='"Liberation Sans", sans-serif' font-size="15.6" text-anchor="middle" stroke="#000" stroke-width="0.3">0.05</text>
<text x="160.4" y="416.6" font-family='"Liberation Sans", sans-serif' font-size="15.6" text-anchor="middle" stroke="#000" stroke-width="0.3">0.1</text>
<text x="214.4" y="416.6" font-family='"Liberation Sans", sans-serif' font-size="15.6" text-anchor="middle" stroke="#000" stroke-width="0.3">0.15</text>
<text x="268.0" y="416.6" font-family='"Liberation Sans", sans-serif' font-size="15.6" text-anchor="middle" stroke="#000" stroke-width="0.3">0.2</text>
<text x="321.9" y="416.6" font-family='"Liberation Sans", sans-serif' font-size="15.6" text-anchor="middle" stroke="#000" stroke-width="0.3">0.25</text>
<text x="375.4" y="416.6" font-family='"Liberation Sans", sans-serif' font-size="15.6" text-anchor="middle" stroke="#000" stroke-width="0.3">0.3</text>
<text x="429.2" y="416.6" font-family='"Liberation Sans", sans-serif' font-size="15.6" text-anchor="middle" stroke="#000" stroke-width="0.3">0.35</text>
<text x="484.0" y="416.6" font-family='"Liberation Sans", sans-serif' font-size="15.6" text-anchor="middle" stroke="#000" stroke-width="0.3">0.4</text>
<text x="582.2" y="16.1" font-family='"Liberation Sans", sans-serif' font-size="15.6" text-anchor="end" stroke="#000" stroke-width="0.3">9</text>
<text x="582.2" y="64.0" font-family='"Liberation Sans", sans-serif' font-size="15.6" text-anchor="end" stroke="#000" stroke-width="0.3">8</text>
<text x="582.2" y="112.1" font-family='"Liberation Sans", sans-serif' font-size="15.6" text-anchor="end" stroke="#000" stroke-width="0.3">7</text>
<text x="582.2" y="161.0" font-family='"Liberation Sans", sans-serif' font-size="15.6" text-anchor="end" stroke="#000" stroke-width="0.3">6</text>
<text x="582.2" y="208.9" font-family='"Liberation Sans", sans-serif' font-size="15.6" text-anchor="end" stroke="#000" stroke-width="0.3">5</text>
<text x="582.2" y="257.3" font-family='"Liberation Sans", sans-serif' font-size="15.6" text-anchor="end" stroke="#000" stroke-width="0.3">4</text>
<text x="582.2" y="305.7" font-family='"Liberation Sans", sans-serif' font-size="15.6" text-anchor="end" stroke="#000" stroke-width="0.3">3</text>
<text x="582.2" y="354.0" font-family='"Liberation Sans", sans-serif' font-size="15.6" text-anchor="end" stroke="#000" stroke-width="0.3">2</text>
<text x="582.2" y="403.1" font-family='"Liberation Sans", sans-serif' font-size="15.6" text-anchor="end" stroke="#000" stroke-width="0.3">1</text>
<text x="587.3" y="415.6" font-family='"Liberation Sans", sans-serif' font-size="15.6" text-anchor="middle" stroke="#000" stroke-width="0.3">0</text>
<text x="638.9" y="415.6" font-family='"Liberation Sans", sans-serif' font-size="15.6" text-anchor="middle" stroke="#000" stroke-width="0.3">0.05</text>
<text x="692.9" y="415.6" font-family='"Liberation Sans", sans-serif' font-size="15.6" text-anchor="middle" stroke="#000" stroke-width="0.3">0.1</text>
<text x="744.9" y="415.6" font-family='"Liberation Sans", sans-serif' font-size="15.6" text-anchor="middle" stroke="#000" stroke-width="0.3">0.15</text>
<text x="798.4" y="415.6" font-family='"Liberation Sans", sans-serif' font-size="15.6" text-anchor="middle" stroke="#000" stroke-width="0.3">0.2</text>
<text x="851.9" y="415.6" font-family='"Liberation Sans", sans-serif' font-size="15.6" text-anchor="middle" stroke="#000" stroke-width="0.3">0.25</text>
<text x="904.4" y="415.6" font-family='"Liberation Sans", sans-serif' font-size="15.6" text-anchor="middle" stroke="#000" stroke-width="0.3">0.3</text>
<text x="957.8" y="415.6" font-family='"Liberation Sans", sans-serif' font-size="15.6" text-anchor="middle" stroke="#000" stroke-width="0.3">0.35</text>
<text x="1010.9" y="415.6" font-family='"Liberation Sans", sans-serif' font-size="15.6" text-anchor="middle" stroke="#000" stroke-width="0.3">0.4</text>
<text x="266.0" y="440.0" font-family='"Liberation Serif", serif' font-size="17" text-anchor="middle">Io[pu]</text>
<text x="796.9" y="438.2" font-family='"Liberation Serif", serif' font-size="17" text-anchor="middle">Io[pu]</text>
<text x="0" y="0" font-family='"Liberation Serif", serif' font-size="17" text-anchor="middle" transform="translate(15.2,207.2) rotate(-90)">Ipeak[pu]</text>
<text x="0" y="0" font-family='"Liberation Serif", serif' font-size="17" text-anchor="middle" transform="translate(561.6,206.3) rotate(-90)">Ipeak[pu]</text>
<text x="245.0" y="483.5" font-family='"Liberation Serif", serif' font-size="28" font-weight="bold" text-anchor="middle">(c)</text>
<text x="787.2" y="483.5" font-family='"Liberation Serif", serif' font-size="28" font-weight="bold" text-anchor="middle">(d)</text>
</svg>
</body></html>
